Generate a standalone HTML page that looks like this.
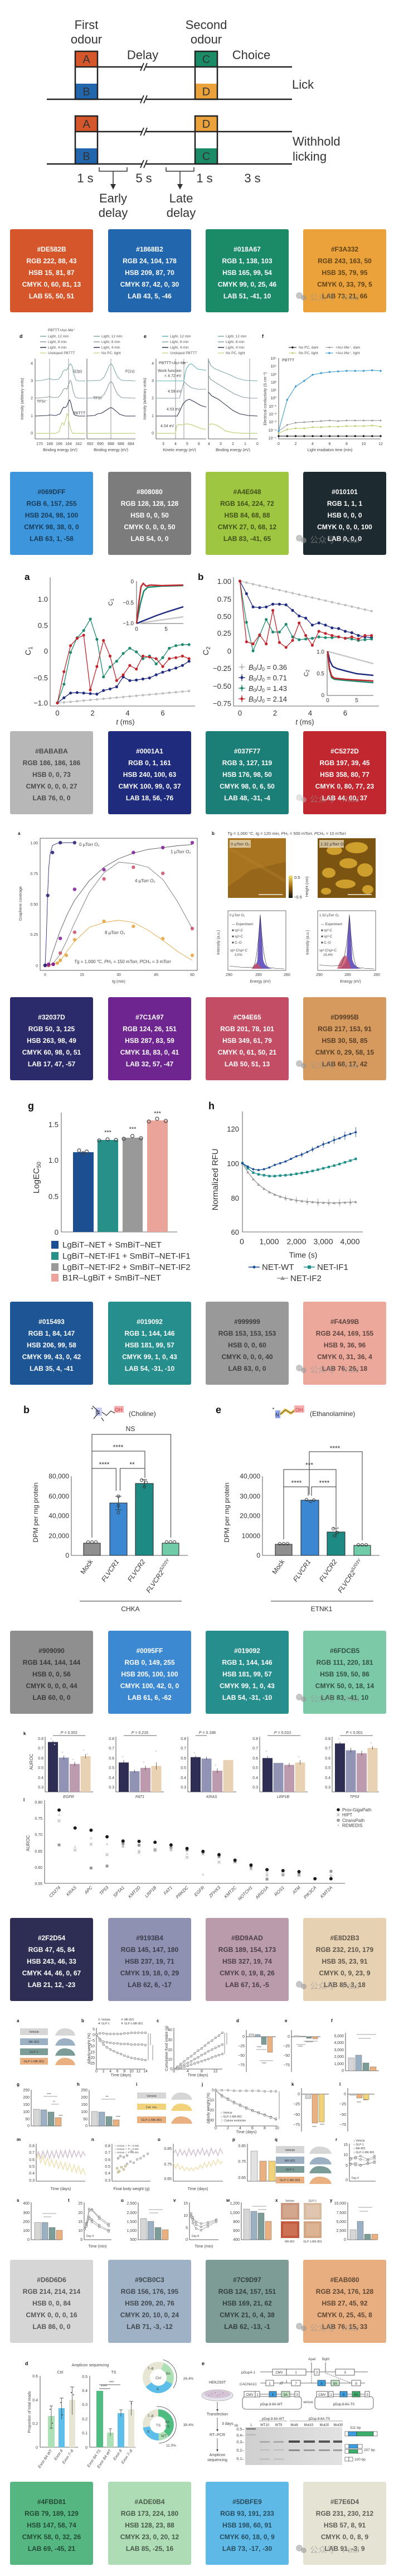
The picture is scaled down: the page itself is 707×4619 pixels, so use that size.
<!DOCTYPE html>
<html><head><meta charset="utf-8">
<style>
html,body{margin:0;padding:0;background:#fff;}
svg{display:block;}
text{font-family:"Liberation Sans","Noto Sans CJK SC",sans-serif;}
.sw text{font-weight:bold;font-size:12px;text-anchor:middle;}
.sw .w text{fill:#fff;}
.sw .d text{fill:rgba(0,0,0,0.6);}
.sw text.wm{font-weight:normal;font-size:15px;fill:rgba(150,150,150,0.6);text-anchor:start;}
.ax{fill:none;stroke:#333;stroke-width:0.8;}
.tk{font-size:7px;fill:#444;}
.tr{font-size:7px;fill:#444;text-anchor:end;}
.tm{font-size:7px;fill:#444;text-anchor:middle;}
.lb{font-weight:bold;fill:#111;}
</style></head><body>
<svg width="707" height="4619" viewBox="0 0 707 4619" xmlns="http://www.w3.org/2000/svg">
<defs>
<marker id="mN" markerUnits="userSpaceOnUse" markerWidth="8" markerHeight="8" refX="4" refY="4"><circle cx="4" cy="4" r="2.6" fill="#1f2b80"/></marker>
<marker id="mG" markerUnits="userSpaceOnUse" markerWidth="8" markerHeight="8" refX="4" refY="4"><circle cx="4" cy="4" r="2.6" fill="#1d8a70"/></marker>
<marker id="mR" markerUnits="userSpaceOnUse" markerWidth="8" markerHeight="8" refX="4" refY="4"><circle cx="4" cy="4" r="2.6" fill="#c0272d"/></marker>
<marker id="mY" markerUnits="userSpaceOnUse" markerWidth="8" markerHeight="8" refX="4" refY="4"><circle cx="4" cy="4" r="2.2" fill="#bdbdbd"/></marker>
<marker id="fB" markerUnits="userSpaceOnUse" markerWidth="6" markerHeight="6" refX="3" refY="3"><circle cx="3" cy="3" r="1.7" fill="#3a9ad0"/></marker>
<marker id="fG" markerUnits="userSpaceOnUse" markerWidth="6" markerHeight="6" refX="3" refY="3"><circle cx="3" cy="3" r="1.4" fill="#888"/></marker>
<marker id="fY" markerUnits="userSpaceOnUse" markerWidth="6" markerHeight="6" refX="3" refY="3"><circle cx="3" cy="3" r="1.5" fill="#b8c860"/></marker>
<marker id="fK" markerUnits="userSpaceOnUse" markerWidth="6" markerHeight="6" refX="3" refY="3"><circle cx="3" cy="3" r="1.7" fill="#111"/></marker>
<marker id="p4n" markerUnits="userSpaceOnUse" markerWidth="8" markerHeight="8" refX="4" refY="4"><circle cx="4" cy="4" r="3.2" fill="#2e2a7a" opacity="0.9"/></marker>
<marker id="p4p" markerUnits="userSpaceOnUse" markerWidth="8" markerHeight="8" refX="4" refY="4"><circle cx="4" cy="4" r="3.2" fill="#7c1a97" opacity="0.85"/></marker>
<marker id="p4k" markerUnits="userSpaceOnUse" markerWidth="8" markerHeight="8" refX="4" refY="4"><circle cx="4" cy="4" r="3.2" fill="#c94e65" opacity="0.85"/></marker>
<marker id="p4o" markerUnits="userSpaceOnUse" markerWidth="8" markerHeight="8" refX="4" refY="4"><circle cx="4" cy="4" r="3.2" fill="#e3a340" opacity="0.85"/></marker>
<marker id="hW" markerUnits="userSpaceOnUse" markerWidth="6" markerHeight="6" refX="3" refY="3"><circle cx="3" cy="3" r="2" fill="#1c4f9a"/></marker>
<marker id="hF" markerUnits="userSpaceOnUse" markerWidth="6" markerHeight="6" refX="3" refY="3"><rect x="0.8" y="0.8" width="4.4" height="4.4" fill="#22908a"/></marker>
<marker id="hT" markerUnits="userSpaceOnUse" markerWidth="6" markerHeight="6" refX="3" refY="3"><path d="M3,0.6 L5.6,5.2 L0.4,5.2 Z" fill="#999"/></marker>
<marker id="mo" markerUnits="userSpaceOnUse" markerWidth="6" markerHeight="6" refX="3" refY="3"><circle cx="3" cy="3" r="1.8" fill="#e6e6e6" stroke="#666" stroke-width="0.6"/></marker>
<linearGradient id="cb" x1="0" y1="0" x2="0" y2="1"><stop offset="0" stop-color="#f5e070"/><stop offset="0.5" stop-color="#a06a10"/><stop offset="1" stop-color="#111"/></linearGradient>
<linearGradient id="gel" x1="0" y1="0" x2="1" y2="0"><stop offset="0" stop-color="#cfcfcf"/><stop offset="1" stop-color="#e2e2e2"/></linearGradient>
</defs>

<!-- ================= FIGURE 1: timing diagram ================= -->
<g font-size="22" fill="#333" text-anchor="middle">
<text x="155" y="52">First</text><text x="155" y="78">odour</text>
<text x="370" y="52">Second</text><text x="370" y="78">odour</text>
<text x="256" y="106">Delay</text><text x="451" y="106">Choice</text>
<text x="153" y="327">1 s</text><text x="258" y="327">5 s</text><text x="367" y="327">1 s</text><text x="453" y="327">3 s</text>
<text x="203" y="363">Early</text><text x="203" y="389">delay</text>
<text x="325" y="363">Late</text><text x="325" y="389">delay</text>
</g>
<g font-size="22" fill="#333"><text x="524" y="159">Lick</text><text x="525" y="261">Withhold</text><text x="525" y="288">licking</text></g>
<!-- boxes group 1 -->
<rect x="135" y="92" width="40" height="28" fill="#d4562a"/><rect x="135" y="150" width="40" height="28" fill="#2267ae"/>
<rect x="350" y="92" width="40" height="28" fill="#1b8a67"/><rect x="350" y="150" width="40" height="28" fill="#eba23a"/>
<rect x="135" y="208" width="40" height="28" fill="#d4562a"/><rect x="135" y="266" width="40" height="28" fill="#2267ae"/>
<rect x="350" y="208" width="40" height="28" fill="#eba23a"/><rect x="350" y="266" width="40" height="28" fill="#1b8a67"/>
<g fill="#333" font-size="20" text-anchor="middle">
<text x="155" y="113">A</text><text x="155" y="171">B</text><text x="370" y="113">C</text><text x="370" y="171">D</text>
<text x="155" y="229">A</text><text x="155" y="287">B</text><text x="370" y="229">D</text><text x="370" y="287">C</text>
</g>
<g fill="none" stroke="#222" stroke-width="2.5">
<rect x="135" y="92" width="40" height="86"/><rect x="350" y="92" width="40" height="86"/>
<rect x="135" y="208" width="40" height="86"/><rect x="350" y="208" width="40" height="86"/>
<path d="M135,120 H524 M84,178 H524 M135,236 H524 M84,294 H524"/>
</g>
<g fill="#fff"><rect x="256" y="112" width="6" height="16"/><rect x="256" y="170" width="6" height="16"/><rect x="256" y="228" width="6" height="16"/><rect x="256" y="286" width="6" height="16"/></g>
<g stroke="#222" stroke-width="1.8" fill="none">
<path d="M252,127 L258,113 M258,127 L264,113 M252,185 L258,171 M258,185 L264,171 M252,243 L258,229 M258,243 L264,229 M252,301 L258,287 M258,301 L264,287"/>
</g>
<g stroke="#333" stroke-width="1.5" fill="none">
<path d="M178,300 V307 H228 V300 M203,307 V334 M298,300 V307 H348 V300 M323,307 V334"/>
</g>
<path d="M198,330 L203,340 L208,330 Z M318,330 L323,340 L328,330 Z" fill="#333"/>

<!-- ================= SWATCH ROW 1 ================= -->
<g class="sw" transform="translate(0,411)">
<rect x="18" y="0" width="149" height="149" rx="3" fill="#d4562a"/>
<rect x="194" y="0" width="149" height="149" rx="3" fill="#2267ae"/>
<rect x="369" y="0" width="149" height="149" rx="3" fill="#1b8a67"/>
<rect x="544" y="0" width="149" height="149" rx="3" fill="#eba23a"/>
<g class="w"><text x="92.5" y="40">#DE582B</text><text x="92.5" y="61">RGB 222, 88, 43</text><text x="92.5" y="82">HSB 15, 81, 87</text><text x="92.5" y="103">CMYK 0, 60, 81, 13</text><text x="92.5" y="124">LAB 55, 50, 51</text></g>
<g class="w"><text x="268.5" y="40">#1868B2</text><text x="268.5" y="61">RGB 24, 104, 178</text><text x="268.5" y="82">HSB 209, 87, 70</text><text x="268.5" y="103">CMYK 87, 42, 0, 30</text><text x="268.5" y="124">LAB 43, 5, -46</text></g>
<g class="w"><text x="443.5" y="40">#018A67</text><text x="443.5" y="61">RGB 1, 138, 103</text><text x="443.5" y="82">HSB 165, 99, 54</text><text x="443.5" y="103">CMYK 99, 0, 25, 46</text><text x="443.5" y="124">LAB 51, -41, 10</text></g>
<g class="d"><text x="618.5" y="40">#F3A332</text><text x="618.5" y="61">RGB 243, 163, 50</text><text x="618.5" y="82">HSB 35, 79, 95</text><text x="618.5" y="103">CMYK 0, 33, 79, 5</text><text x="618.5" y="124">LAB 73, 21, 66</text></g>
<circle cx="537" cy="119" r="6" fill="rgba(160,160,160,0.6)"/><circle cx="545" cy="123" r="5" fill="rgba(150,150,150,0.6)"/>
<text class="wm" x="556" y="127">公众号 · Paul</text>
</g>

<!-- ================= FIGURE 2 ================= -->
<text class="lb" x="35" y="606" font-size="9">d</text>
<text x="86" y="594" font-size="6.5" fill="#444">PBTTT+Acr-Me⁺</text>
<g font-size="6.5" fill="#555">
<path d="M72,603 H83" stroke="#7fa9aa" stroke-width="1.5"/><text x="86" y="605">Light, 12 min</text>
<path d="M72,613 H83" stroke="#8c9ba0" stroke-width="1.5"/><text x="86" y="615">Light, 8 min</text>
<path d="M72,623 H83" stroke="#2e3650" stroke-width="1.5"/><text x="86" y="625">Light, 4 min</text>
<path d="M72,633 H83" stroke="#c9d98f" stroke-width="1.5"/><text x="86" y="635">Undoped PBTTT</text>
<path d="M168,603 H179" stroke="#7fa9aa" stroke-width="1.5"/><text x="182" y="605">Light, 12 min</text>
<path d="M168,613 H179" stroke="#8c9ba0" stroke-width="1.5"/><text x="182" y="615">Light, 8 min</text>
<path d="M168,623 H179" stroke="#2e3650" stroke-width="1.5"/><text x="182" y="625">Light, 4 min</text>
<path d="M168,633 H179" stroke="#c9d98f" stroke-width="1.5"/><text x="182" y="635">No PC, light</text>
</g>
<path class="ax" d="M63,643 V787 H153 M156,643 V787 H243"/>
<path d="M89,643 V787 M123,643 V787 M199,643 V787" stroke="#555" stroke-width="0.6"/>
<g class="tr"><text x="59" y="654">4</text><text x="59" y="685">3</text><text x="59" y="716">2</text><text x="59" y="748">1</text><text x="59" y="779">0</text></g>
<g class="tm"><text x="71" y="798">170</text><text x="89" y="798">168</text><text x="106" y="798">166</text><text x="123" y="798">164</text><text x="141" y="798">162</text>
<text x="162" y="798">692</text><text x="180" y="798">690</text><text x="199" y="798">688</text><text x="217" y="798">686</text><text x="235" y="798">684</text>
<text x="108" y="809">Binding energy (eV)</text><text x="199" y="809">Binding energy (eV)</text></g>
<text class="tm" transform="translate(42,715) rotate(-90)">Intensity (arbitrary units)</text>
<text class="tk" x="130" y="668">S(2p)</text><text class="tk" x="225" y="668">F(1s)</text>
<text class="tk" x="66" y="722">TFSI⁻</text><text class="tk" x="167" y="716">TFSI⁻</text><text class="tk" x="131" y="743">PBTTT</text>
<g fill="none" stroke-width="1.1">
<polyline stroke="#7fa9aa" points="63,683 75,682 85,680 89,679 95,681 105,680 110,674 113,666 116,663 119,664 122,660 124,655 127,652 130,658 133,672 136,681 140,683 153,683"/>
<polyline stroke="#8c9ba0" points="63,714 85,712 89,711 95,713 105,712 110,706 114,698 117,696 120,698 123,690 126,682 128,685 131,700 135,712 140,714 153,714"/>
<polyline stroke="#2e3650" points="63,746 85,745 89,744 100,745 108,742 111,735 114,730 117,731 120,728 123,720 125,717 127,722 130,735 134,744 140,746 153,746"/>
<polyline stroke="#c9d98f" stroke-width="1.4" points="63,777 100,777 106,774 109,764 112,758 115,762 118,752 120,742 122,744 124,758 127,770 130,777 153,777"/>
<polyline stroke="#7fa9aa" points="156,683 180,682 187,676 192,665 196,655 199,652 202,655 206,665 211,676 218,682 243,683"/>
<polyline stroke="#8c9ba0" points="156,714 180,713 187,707 192,697 196,687 199,684 202,687 206,697 211,707 218,713 243,714"/>
<polyline stroke="#2e3650" points="156,746 170,745 175,742 182,741 190,736 196,732 199,731 202,732 208,737 215,743 225,746 243,746"/>
<polyline stroke="#c9d98f" stroke-width="1.4" points="156,777 243,777"/>
</g>
<!-- e -->
<text class="lb" x="258" y="606" font-size="9">e</text>
<g font-size="6.5" fill="#555">
<path d="M291,603 H302" stroke="#5fb0b0" stroke-width="1.5"/><text x="305" y="605">Light, 12 min</text>
<path d="M291,613 H302" stroke="#8aa0a5" stroke-width="1.5"/><text x="305" y="615">Light, 8 min</text>
<path d="M291,623 H302" stroke="#2e3650" stroke-width="1.5"/><text x="305" y="625">Light, 4 min</text>
<path d="M291,633 H302" stroke="#c9d98f" stroke-width="1.5"/><text x="305" y="635">Undoped PBTTT</text>
<path d="M391,603 H402" stroke="#7fa9aa" stroke-width="1.5"/><text x="405" y="605">Light, 12 min</text>
<path d="M391,613 H402" stroke="#8aa0a5" stroke-width="1.5"/><text x="405" y="615">Light, 8 min</text>
<path d="M391,623 H402" stroke="#2e3650" stroke-width="1.5"/><text x="405" y="625">Light, 4 min</text>
<path d="M391,633 H402" stroke="#c9d98f" stroke-width="1.5"/><text x="405" y="635">No PC, light</text>
</g>
<path class="ax" d="M280,643 V787 H370 M374,643 V787 H462"/>
<path d="M315,643 V787 M330,643 V787 M448,643 V787" stroke="#555" stroke-width="0.6"/>
<g class="tr"><text x="276" y="654">4</text><text x="276" y="685">3</text><text x="276" y="716">2</text><text x="276" y="748">1</text><text x="276" y="779">0</text></g>
<g class="tm"><text x="293" y="798">3</text><text x="315" y="798">4</text><text x="336" y="798">5</text><text x="357" y="798">6</text>
<text x="375" y="798">4</text><text x="396" y="798">3</text><text x="418" y="798">2</text><text x="440" y="798">1</text><text x="462" y="798">0</text>
<text x="322" y="809">Kinetic energy (eV)</text><text x="418" y="809">Binding energy (eV)</text></g>
<text class="tm" transform="translate(262,715) rotate(-90)">Intensity (arbitrary units)</text>
<g class="tk" font-size="6.5"><text x="285" y="653">PBTTT+Acr-Me⁺</text><text x="283" y="667">Work function</text><text x="295" y="676">= 4.72 eV</text>
<text x="301" y="704">4.59 eV</text><text x="299" y="736">4.53 eV</text><text x="288" y="766">4.04 eV</text></g>
<g fill="none" stroke-width="1.1">
<polyline stroke="#5fb0b0" points="280,683 330,683 332,670 335,660 339,654 343,652 348,656 355,662 370,664"/>
<polyline stroke="#8aa0a5" points="280,714 322,714 326,700 330,684 336,690 343,695 355,698 370,698"/>
<polyline stroke="#2e3650" points="280,746 318,746 322,738 328,725 334,718 340,716 348,720 360,727 370,730"/>
<polyline stroke="#c9d98f" stroke-width="1.5" points="280,777 315,777 317,763 321,761 325,762 335,760 342,761 350,764 360,768 370,770"/>
<polyline stroke="#7fa9aa" points="374,645 378,655 385,661 395,665 410,671 425,678 440,682 462,683"/>
<polyline stroke="#8aa0a5" points="374,673 378,680 390,688 405,697 420,706 435,712 450,714 462,714"/>
<polyline stroke="#2e3650" points="374,703 380,710 392,716 405,726 418,736 430,742 445,745 462,746"/>
<polyline stroke="#c9d98f" stroke-width="1.5" points="374,762 380,760 388,762 395,766 405,773 420,776 440,777 462,777"/>
</g>
<!-- f -->
<text class="lb" x="470" y="606" font-size="9">f</text>
<g font-size="6.5" fill="#555">
<path d="M518,623 H532" stroke="#111" stroke-width="1"/><circle cx="525" cy="623" r="1.7" fill="#111"/><text x="536" y="625">No PC, dark</text>
<path d="M584,623 H598" stroke="#888" stroke-width="1"/><circle cx="591" cy="623" r="1.4" fill="#888"/><text x="602" y="625">+Acr-Me⁺, dark</text>
<path d="M518,633 H532" stroke="#b8c860" stroke-width="1"/><circle cx="525" cy="633" r="1.5" fill="#b8c860"/><text x="536" y="635">No PC, light</text>
<path d="M584,633 H598" stroke="#3a9ad0" stroke-width="1"/><circle cx="591" cy="633" r="1.7" fill="#3a9ad0"/><text x="602" y="635">+Acr-Me⁺, light</text>
</g>
<path class="ax" d="M500,642 V787 H683"/>
<g class="tr" font-size="6"><text x="496" y="645">10⁵</text><text x="496" y="659">10⁴</text><text x="496" y="674">10³</text><text x="496" y="688">10²</text><text x="496" y="702">10¹</text><text x="496" y="716">10⁰</text><text x="496" y="731">10⁻¹</text><text x="496" y="745">10⁻²</text><text x="496" y="759">10⁻³</text><text x="496" y="774">10⁻⁴</text><text x="496" y="788">10⁻⁵</text></g>
<g class="tm"><text x="500" y="798">0</text><text x="530.5" y="798">2</text><text x="561" y="798">4</text><text x="591.5" y="798">6</text><text x="622" y="798">8</text><text x="652.5" y="798">10</text><text x="683" y="798">12</text>
<text x="592" y="809">Light irradiation time (min)</text></g>
<text class="tm" transform="translate(478,715) rotate(-90)">Electrical conductivity (S cm⁻¹)</text>
<text class="tk" x="506" y="648">PBTTT</text>
<g fill="none" stroke-width="0.9">
<polyline stroke="#111" style="marker-start:url(#fK);marker-mid:url(#fK);marker-end:url(#fK)" points="500,782 515.3,782 530.5,782 545.8,782 561,782 576.3,782 591.5,782 606.8,782 622,782 637.3,782 652.5,782 667.8,782 683,782"/>
<polyline stroke="#b8c860" style="marker-start:url(#fY);marker-mid:url(#fY);marker-end:url(#fY)" points="500,777 515.3,770 530.5,768 545.8,768 561,766 576.3,766 591.5,765 606.8,765 622,764 637.3,764 652.5,764 667.8,763 683,765"/>
<polyline stroke="#888" style="marker-start:url(#fG);marker-mid:url(#fG);marker-end:url(#fG)" points="500,773 515.3,762 530.5,758 545.8,757 561,756 576.3,755 591.5,754 606.8,755 622,754 637.3,754 652.5,754 667.8,754 683,754"/>
<polyline stroke="#3a9ad0" stroke-width="1.1" style="marker-start:url(#fB);marker-mid:url(#fB);marker-end:url(#fB)" points="500,773 515.3,717 530.5,693 545.8,683 561,672 576.3,669 591.5,667 606.8,666 622,665 637.3,665 652.5,665 667.8,664 683,665"/>
</g>

<!-- ================= SWATCH ROW 2 ================= -->
<g class="sw" transform="translate(0,846)">
<rect x="18" y="0" width="149" height="149" rx="3" fill="#3d95db"/>
<rect x="194" y="0" width="149" height="149" rx="3" fill="#7c7c7c"/>
<rect x="369" y="0" width="149" height="149" rx="3" fill="#9fc640"/>
<rect x="544" y="0" width="149" height="149" rx="3" fill="#1d2a30"/>
<g class="d"><text x="92.5" y="40">#069DFF</text><text x="92.5" y="61">RGB 6, 157, 255</text><text x="92.5" y="82">HSB 204, 98, 100</text><text x="92.5" y="103">CMYK 98, 38, 0, 0</text><text x="92.5" y="124">LAB 63, 1, -58</text></g>
<g class="w"><text x="268.5" y="40">#808080</text><text x="268.5" y="61">RGB 128, 128, 128</text><text x="268.5" y="82">HSB 0, 0, 50</text><text x="268.5" y="103">CMYK 0, 0, 0, 50</text><text x="268.5" y="124">LAB 54, 0, 0</text></g>
<g class="d"><text x="443.5" y="40">#A4E048</text><text x="443.5" y="61">RGB 164, 224, 72</text><text x="443.5" y="82">HSB 84, 68, 88</text><text x="443.5" y="103">CMYK 27, 0, 68, 12</text><text x="443.5" y="124">LAB 83, -41, 65</text></g>
<g class="w"><text x="618.5" y="40">#010101</text><text x="618.5" y="61">RGB 1, 1, 1</text><text x="618.5" y="82">HSB 0, 0, 0</text><text x="618.5" y="103">CMYK 0, 0, 0, 100</text><text x="618.5" y="124">LAB 0, 0, 0</text></g>
<circle cx="537" cy="119" r="6" fill="rgba(160,160,160,0.6)"/><circle cx="545" cy="123" r="5" fill="rgba(150,150,150,0.6)"/>
<text class="wm" x="556" y="127">公众号 · Paul</text>
</g>

<!-- ================= FIGURE 3 ================= -->
<text class="lb" x="44" y="1040" font-size="17">a</text>
<text class="lb" x="355" y="1040" font-size="17">b</text>
<path class="ax" stroke-width="1.2" d="M90,1035 V1266 H350 M419,1035 V1266 H680"/>
<g font-size="13" fill="#333" text-anchor="end">
<text x="86" y="1079">1.0</text><text x="86" y="1126">0.5</text><text x="86" y="1172">0</text><text x="86" y="1220">−0.5</text><text x="86" y="1265">−1.0</text>
<text x="415" y="1047">1.00</text><text x="415" y="1079">0.75</text><text x="415" y="1110">0.50</text><text x="415" y="1140">0.25</text><text x="415" y="1172">0</text><text x="415" y="1203">−0.25</text><text x="415" y="1235">−0.50</text><text x="415" y="1266">−0.75</text>
</g>
<g font-size="13" fill="#333" text-anchor="middle">
<text x="103" y="1283">0</text><text x="166" y="1283">2</text><text x="229" y="1283">4</text><text x="292" y="1283">6</text>
<text x="430.5" y="1283">0</text><text x="493.5" y="1283">2</text><text x="556.5" y="1283">4</text><text x="619.5" y="1283">6</text>
<text x="225" y="1299"><tspan font-style="italic">t</tspan> (ms)</text><text x="547" y="1299"><tspan font-style="italic">t</tspan> (ms)</text>
</g>
<text font-size="14" fill="#333" transform="translate(55,1175) rotate(-90)">C<tspan font-size="10" dy="3">1</tspan></text>
<text font-size="14" fill="#333" transform="translate(374,1175) rotate(-90)">C<tspan font-size="10" dy="3">2</tspan></text>
<g fill="none" stroke-width="1.3">
<polyline stroke="#bdbdbd" style="marker-start:url(#mY);marker-mid:url(#mY);marker-end:url(#mY)" points="103,1260.5 114.8,1259.4 126.6,1258.4 138.4,1257.3 150.2,1256.2 162.1,1255.1 173.9,1254.1 185.7,1253 197.5,1251.9 209.3,1250.8 221.1,1249.8 232.9,1248.7 244.7,1247.6 256.5,1246.5 268.3,1245.5 280.2,1244.4 292,1243.3 303.8,1242.2 315.6,1241.2 327.4,1240.1 339.2,1239"/>
<polyline stroke="#1f2b80" style="marker-start:url(#mN);marker-mid:url(#mN);marker-end:url(#mN)" points="103,1260.5 114.8,1251.2 126.6,1242.7 138.4,1241.8 150.2,1242.7 162.1,1243.7 173.9,1244.6 185.7,1238.1 197.5,1235.3 209.3,1231.5 221.1,1213.8 232.9,1220.3 244.7,1219.4 256.5,1217.5 268.3,1215.6 280.2,1210 292,1205.3 303.8,1201.6 315.6,1197.9 327.4,1193.2 339.2,1185.7"/>
<polyline stroke="#1d8a70" style="marker-start:url(#mG);marker-mid:url(#mG);marker-end:url(#mG)" points="103,1260.5 114.8,1226.8 126.6,1169.8 138.4,1143.6 150.2,1130.5 162.1,1110 173.9,1146.4 185.7,1213.8 197.5,1196 209.3,1185.7 221.1,1171.7 232.9,1162.3 244.7,1168.9 256.5,1181 268.3,1176.4 280.2,1190.4 292,1179.2 303.8,1162.3 315.6,1157.7 327.4,1155.8 339.2,1155.8"/>
<polyline stroke="#c0272d" style="marker-start:url(#mR);marker-mid:url(#mR);marker-end:url(#mR)" points="103,1260.5 114.8,1204.4 126.6,1157.7 138.4,1144.6 150.2,1139 162.1,1237.1 173.9,1195.1 185.7,1148.3 197.5,1176.4 209.3,1220.3 221.1,1210 232.9,1193.2 244.7,1199.7 256.5,1176.4 268.3,1178.2 280.2,1181 292,1195.1 303.8,1181 315.6,1179.2 327.4,1176.4 339.2,1181"/>
<polyline stroke="#bdbdbd" style="marker-start:url(#mY);marker-mid:url(#mY);marker-end:url(#mY)" points="430.5,1042 442.3,1044.7 454.1,1047.4 465.9,1050.1 477.7,1052.8 489.6,1055.5 501.4,1058.1 513.2,1060.8 525,1063.5 536.8,1066.2 548.6,1068.9 560.4,1071.6 572.2,1074.3 584,1077 595.8,1079.7 607.7,1082.4 619.5,1085 631.3,1087.7 643.1,1090.4 654.9,1093.1 666.7,1095.8"/>
<polyline stroke="#1f2b80" style="marker-start:url(#mN);marker-mid:url(#mN);marker-end:url(#mN)" points="430.5,1042 442.3,1064.5 454.1,1088.3 465.9,1089.5 477.7,1088.3 489.6,1083.3 501.4,1083.3 513.2,1084.5 525,1094.5 536.8,1104.5 548.6,1108.3 560.4,1120.8 572.2,1117 584,1120.8 595.8,1125.8 607.7,1127 619.5,1132 631.3,1134.5 643.1,1139.5 654.9,1142 666.7,1143.3"/>
<polyline stroke="#1d8a70" style="marker-start:url(#mG);marker-mid:url(#mG);marker-end:url(#mG)" points="430.5,1042 442.3,1115.8 454.1,1167 465.9,1139.5 477.7,1110.8 489.6,1133.3 501.4,1133.3 513.2,1119.5 525,1142 536.8,1147 548.6,1145.8 560.4,1144.5 572.2,1142 584,1143.3 595.8,1143.3 607.7,1142 619.5,1144.5 631.3,1145.8 643.1,1148.3 654.9,1147 666.7,1145.8"/>
<polyline stroke="#c0272d" style="marker-start:url(#mR);marker-mid:url(#mR);marker-end:url(#mR)" points="430.5,1042 442.3,1150.8 454.1,1154.5 465.9,1138.3 477.7,1154.5 489.6,1094.5 501.4,1152 513.2,1160.8 525,1148.3 536.8,1117 548.6,1139.5 560.4,1157 572.2,1132 584,1135.8 595.8,1139.5 607.7,1142 619.5,1144.5 631.3,1142 643.1,1145.8 654.9,1139.5 666.7,1139.5"/>
</g>
<!-- inset a -->
<path class="ax" d="M245,1042 V1118 H329"/>
<g font-size="10" fill="#333"><text x="240" y="1046" text-anchor="end">0</text><text x="240" y="1084" text-anchor="end">−0.5</text><text x="240" y="1121" text-anchor="end">−1.0</text>
<text x="245" y="1131" text-anchor="middle">0</text><text x="298" y="1131" text-anchor="middle">5</text></g>
<text font-size="11" fill="#333" transform="translate(202,1086) rotate(-90)">C<tspan font-size="8" dy="2">1</tspan></text>
<g fill="none" stroke-width="2.5">
<polyline stroke="#c8c8c8" points="245,1118 329,1106"/>
<polyline stroke="#1f2b80" points="245,1118 260,1112 280,1104 300,1097 329,1088"/>
<polyline stroke="#1d8a70" points="245,1118 252,1082 258,1060 265,1053 290,1051 329,1050"/>
<polyline stroke="#c0272d" points="245,1118 249,1082 253,1052 257,1046 262,1051 270,1049 290,1050 329,1049"/>
</g>
<!-- inset b -->
<path class="ax" d="M587,1167 V1247 H670"/>
<g font-size="10" fill="#333"><text x="582" y="1172" text-anchor="end">1.0</text><text x="582" y="1211" text-anchor="end">0.5</text><text x="582" y="1250" text-anchor="end">0</text>
<text x="588" y="1259" text-anchor="middle">0</text><text x="640" y="1259" text-anchor="middle">5</text></g>
<text font-size="11" fill="#333" transform="translate(553,1213) rotate(-90)">C<tspan font-size="8" dy="2">2</tspan></text>
<g fill="none" stroke-width="2.5">
<polyline stroke="#c8c8c8" points="588,1168 670,1190"/>
<polyline stroke="#1f2b80" points="588,1168 592,1185 597,1195 605,1199 620,1203 640,1208 670,1211"/>
<polyline stroke="#1d8a70" points="588,1168 591,1200 595,1215 600,1218 620,1220 670,1224"/>
<polyline stroke="#c0272d" points="588,1168 591,1198 595,1212 600,1216 620,1218 670,1221"/>
</g>
<!-- legend b -->
<g font-size="13" fill="#333">
<path d="M428,1196 H440 M434,1190 V1202" stroke="#bdbdbd" stroke-width="1.3"/><circle cx="434" cy="1196" r="2.5" fill="#bdbdbd"/><text x="446" y="1201"><tspan font-style="italic">B</tspan><tspan font-size="9" dy="2">0</tspan><tspan dy="-2">/</tspan><tspan font-style="italic">J</tspan><tspan font-size="9" dy="2">0</tspan><tspan dy="-2"> = 0.36</tspan></text>
<path d="M428,1215 H440 M434,1209 V1221" stroke="#1f2b80" stroke-width="1.3"/><circle cx="434" cy="1215" r="2.5" fill="#1f2b80"/><text x="446" y="1220"><tspan font-style="italic">B</tspan><tspan font-size="9" dy="2">0</tspan><tspan dy="-2">/</tspan><tspan font-style="italic">J</tspan><tspan font-size="9" dy="2">0</tspan><tspan dy="-2"> = 0.71</tspan></text>
<path d="M428,1234 H440 M434,1228 V1240" stroke="#1d8a70" stroke-width="1.3"/><circle cx="434" cy="1234" r="2.5" fill="#1d8a70"/><text x="446" y="1239"><tspan font-style="italic">B</tspan><tspan font-size="9" dy="2">0</tspan><tspan dy="-2">/</tspan><tspan font-style="italic">J</tspan><tspan font-size="9" dy="2">0</tspan><tspan dy="-2"> = 1.43</tspan></text>
<path d="M428,1253 H440 M434,1247 V1259" stroke="#c0272d" stroke-width="1.3"/><circle cx="434" cy="1253" r="2.5" fill="#c0272d"/><text x="446" y="1258"><tspan font-style="italic">B</tspan><tspan font-size="9" dy="2">0</tspan><tspan dy="-2">/</tspan><tspan font-style="italic">J</tspan><tspan font-size="9" dy="2">0</tspan><tspan dy="-2"> = 2.14</tspan></text>
</g>

<!-- ================= SWATCH ROW 3 ================= -->
<g class="sw" transform="translate(0,1311)">
<rect x="18" y="0" width="149" height="149" rx="3" fill="#b7b7b7"/>
<rect x="194" y="0" width="149" height="149" rx="3" fill="#1f2c7d"/>
<rect x="369" y="0" width="149" height="149" rx="3" fill="#1c7f77"/>
<rect x="544" y="0" width="149" height="149" rx="3" fill="#c1272e"/>
<g class="d"><text x="92.5" y="40">#BABABA</text><text x="92.5" y="61">RGB 186, 186, 186</text><text x="92.5" y="82">HSB 0, 0, 73</text><text x="92.5" y="103">CMYK 0, 0, 0, 27</text><text x="92.5" y="124">LAB 76, 0, 0</text></g>
<g class="w"><text x="268.5" y="40">#0001A1</text><text x="268.5" y="61">RGB 0, 1, 161</text><text x="268.5" y="82">HSB 240, 100, 63</text><text x="268.5" y="103">CMYK 100, 99, 0, 37</text><text x="268.5" y="124">LAB 18, 56, -76</text></g>
<g class="w"><text x="443.5" y="40">#037F77</text><text x="443.5" y="61">RGB 3, 127, 119</text><text x="443.5" y="82">HSB 176, 98, 50</text><text x="443.5" y="103">CMYK 98, 0, 6, 50</text><text x="443.5" y="124">LAB 48, -31, -4</text></g>
<g class="w"><text x="618.5" y="40">#C5272D</text><text x="618.5" y="61">RGB 197, 39, 45</text><text x="618.5" y="82">HSB 358, 80, 77</text><text x="618.5" y="103">CMYK 0, 80, 77, 23</text><text x="618.5" y="124">LAB 44, 60, 37</text></g>
<circle cx="537" cy="119" r="6" fill="rgba(200,200,200,0.5)"/><circle cx="545" cy="123" r="5" fill="rgba(190,190,190,0.5)"/>
<text class="wm" x="556" y="127">公众号 · Paul</text>
</g>

<!-- ================= FIGURE 4 ================= -->
<text class="lb" x="32" y="1497" font-size="8">a</text>
<rect x="72" y="1503" width="282" height="237" fill="none" stroke="#333" stroke-width="0.8"/>
<g class="tr" font-size="8"><text x="68" y="1514">1.00</text><text x="68" y="1569">0.75</text><text x="68" y="1624">0.50</text><text x="68" y="1678">0.25</text><text x="68" y="1734">0</text></g>
<g class="tm" font-size="8"><text x="81" y="1750">0</text><text x="147" y="1750">15</text><text x="213" y="1750">30</text><text x="280" y="1750">45</text><text x="345" y="1750">60</text>
<text x="213" y="1762"><tspan font-style="italic">t</tspan>g (min)</text></g>
<text class="tm" font-size="8" transform="translate(39,1620) rotate(-90)">Graphene coverage</text>
<g fill="none" stroke-width="0.9">
<polyline stroke="#2e2a7a" points="81,1731 83.2,1680 85.4,1606 87.6,1555 89.8,1532 94.2,1516 103,1512 116.2,1511 133.8,1511"/>
<polyline stroke="#555" points="81,1731 87.6,1731 94.2,1709 107.4,1670.5 120.6,1639.7 133.8,1614.4 160.2,1579.2 186.6,1555 213,1539.6 239.4,1529.7 265.8,1523.1 292.2,1519.8 318.6,1516.5 345,1514.3"/>
<polyline stroke="#777" points="81,1731 94.2,1729 107.4,1712 120.6,1685 133.8,1655 160.2,1600 186.6,1565 213,1546 239.4,1548.4 265.8,1555 292.2,1577 318.6,1616.6 345,1665"/>
<polyline stroke="#e3a340" points="81,1731 94.2,1730 107.4,1724 120.6,1705 133.8,1688 160.2,1663 186.6,1654 213,1650 239.4,1654 265.8,1668 292.2,1686 318.6,1706 345,1722"/>
</g>
<g fill="none" stroke="none">
<polyline style="marker-start:url(#p4o);marker-mid:url(#p4o);marker-end:url(#p4o)" points="81,1731 87.2,1731 95.5,1729 103,1727 108.2,1722 119,1713 133.9,1685 186.6,1652 239.4,1661 292.2,1683 345,1713"/>
<polyline style="marker-start:url(#p4k);marker-mid:url(#p4k);marker-end:url(#p4k)" points="81,1731 87.2,1731 95.5,1729 108.2,1709 133.9,1671.6 186.6,1576 239.4,1555 292.2,1566 345,1665"/>
<polyline style="marker-start:url(#p4p);marker-mid:url(#p4p);marker-end:url(#p4p)" points="81,1731 87.2,1729 95.5,1729 108.2,1682.6 133.9,1594.6 186.6,1559.4 239.4,1528.6 292.2,1519.8 345,1511"/>
<polyline style="marker-start:url(#p4n);marker-mid:url(#p4n);marker-end:url(#p4n)" points="81,1731 85.7,1605.6 94.2,1528.6 108.2,1511 133.9,1511"/>
</g>
<g font-size="8" fill="#444"><text x="142" y="1517">0 µTorr O₂</text><text x="306" y="1530">1 µTorr O₂</text><text x="242" y="1582">4 µTorr O₂</text><text x="188" y="1675">8 µTorr O₂</text>
<text x="133" y="1727"><tspan font-style="italic">T</tspan>g = 1,000 °C, <tspan font-style="italic">P</tspan>H₂ = 150 mTorr, <tspan font-style="italic">P</tspan>CH₄ = 3 mTorr</text></g>
<!-- b -->
<text class="lb" x="380" y="1497" font-size="8">b</text>
<text x="408" y="1497" font-size="7.5" fill="#444"><tspan font-style="italic">T</tspan>g = 1,000 °C, <tspan font-style="italic">t</tspan>g = 120 min, <tspan font-style="italic">P</tspan>H₂ = 500 mTorr, <tspan font-style="italic">P</tspan>CH₄ = 10 mTorr</text>
<rect x="409" y="1503" width="104" height="107" fill="#a87420"/>
<path d="M409,1590 L450,1560 L513,1545 L513,1610 L409,1610 Z" fill="#8a5e18" opacity="0.6"/>
<path d="M409,1520 L513,1580" stroke="#c08a30" stroke-width="6" opacity="0.25"/>
<rect x="570" y="1503" width="104" height="107" fill="#7a5410"/>
<g fill="#d8a830" opacity="0.9">
<ellipse cx="600" cy="1525" rx="14" ry="8"/><ellipse cx="640" cy="1520" rx="20" ry="10"/><ellipse cx="625" cy="1548" rx="16" ry="9"/><ellipse cx="655" cy="1560" rx="14" ry="12"/><ellipse cx="590" cy="1565" rx="12" ry="9"/><ellipse cx="620" cy="1585" rx="18" ry="8"/><ellipse cx="660" cy="1595" rx="10" ry="8"/><ellipse cx="585" cy="1598" rx="9" ry="6"/>
</g>
<rect x="412" y="1506" width="38" height="14" fill="#e8d8b8" opacity="0.8"/><text x="414" y="1516" font-size="7.5" fill="#333">0 µTorr O₂</text>
<rect x="573" y="1506" width="44" height="14" fill="#e8d8b8" opacity="0.8"/><text x="575" y="1516" font-size="7.5" fill="#333">1.32 µTorr O₂</text>
<path d="M464,1604 H507 M624,1604 H667" stroke="#f5f0e0" stroke-width="1.5"/>
<rect x="518" y="1570" width="7" height="40" fill="url(#cb)"/>
<text x="528" y="1576" font-size="7.5" fill="#333">0.5</text><text x="527" y="1611" font-size="7.5" fill="#333">−0.5</text>
<text class="tm" font-size="7.5" transform="translate(553,1590) rotate(-90)">Height (nm)</text>
<rect x="409" y="1633" width="104" height="107" fill="none" stroke="#333" stroke-width="0.7"/>
<rect x="570" y="1633" width="104" height="107" fill="none" stroke="#333" stroke-width="0.7"/>
<path d="M450,1737 Q460,1735 462,1720 Q465,1650 467,1641 Q469,1650 472,1720 Q475,1736 490,1737 Z" fill="#5b4bb8" opacity="0.9"/>
<path d="M452,1737 Q458,1725 462,1728 Q466,1732 470,1737 Z" fill="#c94e65" opacity="0.8"/>
<path d="M412,1732 Q440,1736 455,1734 Q462,1720 467,1640 Q472,1720 480,1734 Q495,1737 510,1737" fill="none" stroke="#222" stroke-width="0.6"/>
<path d="M608,1737 Q620,1730 622,1718 Q625,1650 627,1641 Q629,1650 632,1720 Q636,1736 650,1737 Z" fill="#5b4bb8" opacity="0.9"/>
<path d="M605,1737 Q613,1715 620,1713 Q626,1720 630,1737 Z" fill="#c94e65" opacity="0.8"/>
<path d="M573,1730 Q600,1734 612,1730 Q622,1715 627,1640 Q632,1720 640,1734 Q655,1737 671,1737" fill="none" stroke="#222" stroke-width="0.6"/>
<g font-size="6" fill="#444">
<text x="412" y="1643">0 µTorr O₂</text><text x="416" y="1659">— Experiment</text><text x="416" y="1670">■ sp²-C</text><text x="416" y="1681">■ sp³-C</text><text x="416" y="1692">■ C–O</text><text x="413" y="1706">sp³-C/sp²-C</text><text x="421" y="1714">3.0%</text>
<text x="573" y="1643">1.32 µTorr O₂</text><text x="576" y="1659">— Experiment</text><text x="576" y="1670">■ sp²-C</text><text x="576" y="1681">■ sp³-C</text><text x="576" y="1692">■ C–O</text><text x="573" y="1706">sp³-C/sp²-C</text><text x="580" y="1714">15.4%</text>
</g>
<text class="tm" font-size="7.5" transform="translate(394,1690) rotate(-90)">Intensity (a.u.)</text>
<text class="tm" font-size="7.5" transform="translate(554,1690) rotate(-90)">Intensity (a.u.)</text>
<g class="tm" font-size="8"><text x="411" y="1750">290</text><text x="464" y="1750">285</text><text x="515" y="1750">280</text><text x="573" y="1750">290</text><text x="624" y="1750">285</text><text x="676" y="1750">280</text>
<text x="467" y="1762">Energy (eV)</text><text x="629" y="1762">Energy (eV)</text></g>

<!-- ================= SWATCH ROW 4 ================= -->
<g class="sw" transform="translate(0,1788)">
<rect x="18" y="0" width="149" height="149" rx="3" fill="#2b2b6c"/>
<rect x="194" y="0" width="149" height="149" rx="3" fill="#6e2590"/>
<rect x="369" y="0" width="149" height="149" rx="3" fill="#c24d64"/>
<rect x="544" y="0" width="149" height="149" rx="3" fill="#d79a5e"/>
<g class="w"><text x="92.5" y="40">#32037D</text><text x="92.5" y="61">RGB 50, 3, 125</text><text x="92.5" y="82">HSB 263, 98, 49</text><text x="92.5" y="103">CMYK 60, 98, 0, 51</text><text x="92.5" y="124">LAB 17, 47, -57</text></g>
<g class="w"><text x="268.5" y="40">#7C1A97</text><text x="268.5" y="61">RGB 124, 26, 151</text><text x="268.5" y="82">HSB 287, 83, 59</text><text x="268.5" y="103">CMYK 18, 83, 0, 41</text><text x="268.5" y="124">LAB 32, 57, -47</text></g>
<g class="w"><text x="443.5" y="40">#C94E65</text><text x="443.5" y="61">RGB 201, 78, 101</text><text x="443.5" y="82">HSB 349, 61, 79</text><text x="443.5" y="103">CMYK 0, 61, 50, 21</text><text x="443.5" y="124">LAB 50, 51, 13</text></g>
<g class="d"><text x="618.5" y="40">#D9995B</text><text x="618.5" y="61">RGB 217, 153, 91</text><text x="618.5" y="82">HSB 30, 58, 85</text><text x="618.5" y="103">CMYK 0, 29, 58, 15</text><text x="618.5" y="124">LAB 68, 17, 42</text></g>
<circle cx="537" cy="119" r="6" fill="rgba(160,160,160,0.6)"/><circle cx="545" cy="123" r="5" fill="rgba(150,150,150,0.6)"/>
<text class="wm" x="556" y="127">公众号 · Paul</text>
</g>

<!-- ================= FIGURE 5 ================= -->
<text class="lb" x="50" y="1989" font-size="18">g</text>
<text class="lb" x="374" y="1989" font-size="18">h</text>
<path class="ax" stroke-width="1.1" d="M110,1995 V2209 H318"/>
<g font-size="13" fill="#333" text-anchor="end"><text x="105" y="2021">1.5</text><text x="105" y="2085">1.0</text><text x="105" y="2150">0.5</text><text x="105" y="2214">0</text></g>
<text font-size="15" fill="#333" transform="translate(70,2140) rotate(-90)">LogEC<tspan font-size="10" dy="3">50</tspan></text>
<rect x="131" y="2066" width="37" height="143" fill="#1b4f92"/>
<rect x="175" y="2044" width="37" height="165" fill="#279088"/>
<rect x="220" y="2040" width="36" height="169" fill="#999999"/>
<rect x="264" y="2009" width="37" height="200" fill="#eba49a"/>
<g fill="none" stroke="#444" stroke-width="1.2">
<circle cx="142" cy="2063" r="3"/><circle cx="149" cy="2068" r="3"/><circle cx="155.5" cy="2065" r="3"/>
<circle cx="178" cy="2045" r="3"/><circle cx="193" cy="2043" r="3"/><circle cx="208" cy="2044" r="3"/>
<circle cx="222" cy="2042" r="3"/><circle cx="237.6" cy="2037" r="3"/><circle cx="253" cy="2041" r="3"/>
<circle cx="267" cy="2011" r="3"/><circle cx="282" cy="2006" r="3"/><circle cx="297.5" cy="2010" r="3"/>
</g>
<g font-size="11" fill="#333" text-anchor="middle"><text x="193.5" y="2034">***</text><text x="238" y="2028">***</text><text x="282.5" y="2000">***</text></g>
<g font-size="15" fill="#333">
<rect x="92" y="2225" width="13" height="14" fill="#1b4f92"/><text x="112" y="2237">LgBiT–NET + SmBiT–NET</text>
<rect x="92" y="2245" width="13" height="14" fill="#279088"/><text x="112" y="2257">LgBiT–NET-IF1 + SmBiT–NET-IF1</text>
<rect x="92" y="2265" width="13" height="14" fill="#999999"/><text x="112" y="2277">LgBiT–NET-IF2 + SmBiT–NET-IF2</text>
<rect x="92" y="2284" width="13" height="14" fill="#eba49a"/><text x="112" y="2296">B1R–LgBiT + SmBiT–NET</text>
</g>
<path class="ax" stroke-width="1.1" d="M435,1993 V2209 H651"/>
<g font-size="13" fill="#333" text-anchor="end"><text x="429" y="2029">120</text><text x="429" y="2091">100</text><text x="429" y="2153">80</text><text x="429" y="2214">60</text></g>
<g font-size="14" fill="#333" text-anchor="middle"><text x="434" y="2231">0</text><text x="483" y="2231">1,000</text><text x="532" y="2231">2,000</text><text x="580" y="2231">3,000</text><text x="628" y="2231">4,000</text>
<text x="544" y="2255">Time (s)</text></g>
<text font-size="15" fill="#333" text-anchor="middle" transform="translate(391,2115) rotate(-90)">Normalized RFU</text>
<g stroke="#1c4f9a" stroke-width="0.8">
<path d="M580.2,2046 V2058 M599.6,2037 V2051 M618.9,2029 V2044 M638.3,2021 V2039 M560.8,2056 V2066 M541.5,2066 V2075"/>
</g>
<g stroke="#999" stroke-width="0.8"><path d="M512.4,2143 V2153 M531.8,2146 V2158 M551.2,2148 V2161 M570.5,2149 V2163 M589.9,2150 V2163 M609.2,2150 V2163 M628.6,2149 V2162"/></g>
<g fill="none" stroke-width="1.3">
<polyline stroke="#999" style="marker-start:url(#hT);marker-mid:url(#hT);marker-end:url(#hT)" points="435,2085.7 444.7,2101.7 454.4,2114.2 464,2123.9 473.7,2131.4 483.4,2137.4 493.1,2141.9 502.8,2145.4 512.4,2148.2 522.1,2150.4 531.8,2152.1 541.5,2153.4 551.2,2154.4 560.8,2155.2 570.5,2155.9 580.2,2156.3 589.9,2156.6 599.6,2156.8 609.2,2156.5 618.9,2156 628.6,2155.5 638.3,2155"/>
<polyline stroke="#22908a" style="marker-start:url(#hF);marker-mid:url(#hF);marker-end:url(#hF)" points="435,2085.7 444.7,2094.9 454.4,2102.6 464,2105.7 473.7,2107.3 483.4,2108.8 493.1,2108.8 502.8,2107.9 512.4,2107.3 522.1,2106.3 531.8,2104.8 541.5,2103.3 551.2,2101.7 560.8,2099.6 570.5,2097.4 580.2,2094.9 589.9,2092.5 599.6,2090 609.2,2087.3 618.9,2084.2 628.6,2081.1 638.3,2078"/>
<polyline stroke="#1c4f9a" style="marker-start:url(#hW);marker-mid:url(#hW);marker-end:url(#hW)" points="435,2085.7 444.7,2091.8 454.4,2096.5 464,2098 473.7,2096.5 483.4,2093.4 493.1,2088.8 502.8,2085.7 512.4,2082.6 522.1,2078 531.8,2073.4 541.5,2070.3 551.2,2065.7 560.8,2061.1 570.5,2056.4 580.2,2051.8 589.9,2048.7 599.6,2044.1 609.2,2041 618.9,2036.4 628.6,2033.3 638.3,2030.2"/>
</g>
<g font-size="15" fill="#333">
<path d="M446,2272 H466" stroke="#1c4f9a" stroke-width="1.5"/><circle cx="456" cy="2272" r="2.5" fill="#1c4f9a"/><text x="470" y="2277">NET-WT</text>
<path d="M545,2272 H565" stroke="#22908a" stroke-width="1.5"/><rect x="552" y="2269" width="6" height="6" fill="#22908a"/><text x="569" y="2277">NET-IF1</text>
<path d="M497,2292 H517" stroke="#999" stroke-width="1.5"/><path d="M507,2288 L511,2295 L503,2295 Z" fill="#999"/><text x="521" y="2297">NET-IF2</text>
</g>

<!-- ================= SWATCH ROW 5 ================= -->
<g class="sw" transform="translate(0,2334)">
<rect x="18" y="0" width="149" height="149" rx="3" fill="#1d5595"/>
<rect x="194" y="0" width="149" height="149" rx="3" fill="#268e8d"/>
<rect x="369" y="0" width="149" height="149" rx="3" fill="#999999"/>
<rect x="544" y="0" width="149" height="149" rx="3" fill="#eba89b"/>
<g class="w"><text x="92.5" y="40">#015493</text><text x="92.5" y="61">RGB 1, 84, 147</text><text x="92.5" y="82">HSB 206, 99, 58</text><text x="92.5" y="103">CMYK 99, 43, 0, 42</text><text x="92.5" y="124">LAB 35, 4, -41</text></g>
<g class="w"><text x="268.5" y="40">#019092</text><text x="268.5" y="61">RGB 1, 144, 146</text><text x="268.5" y="82">HSB 181, 99, 57</text><text x="268.5" y="103">CMYK 99, 1, 0, 43</text><text x="268.5" y="124">LAB 54, -31, -10</text></g>
<g class="d"><text x="443.5" y="40">#999999</text><text x="443.5" y="61">RGB 153, 153, 153</text><text x="443.5" y="82">HSB 0, 0, 60</text><text x="443.5" y="103">CMYK 0, 0, 0, 40</text><text x="443.5" y="124">LAB 63, 0, 0</text></g>
<g class="d"><text x="618.5" y="40">#F4A99B</text><text x="618.5" y="61">RGB 244, 169, 155</text><text x="618.5" y="82">HSB 9, 36, 96</text><text x="618.5" y="103">CMYK 0, 31, 36, 4</text><text x="618.5" y="124">LAB 76, 26, 18</text></g>
<circle cx="537" cy="119" r="6" fill="rgba(160,160,160,0.6)"/><circle cx="545" cy="123" r="5" fill="rgba(150,150,150,0.6)"/>
<text class="wm" x="556" y="127">公众号 · Paul</text>
</g>

<!-- ================= FIGURE 6 ================= -->
<text class="lb" x="42" y="2534" font-size="18">b</text>
<text class="lb" x="387" y="2534" font-size="18">e</text>
<!-- choline molecule -->
<rect x="171" y="2524" width="12" height="15" fill="#c8cdf5"/>
<text x="172" y="2536" font-size="10" fill="#223">N</text><text x="163" y="2528" font-size="8" fill="#223">+</text>
<path d="M166,2521 L177,2531 M168,2544 L177,2533 M182,2542 L186,2548 M183,2532 L191,2538 L199,2530 L206,2534" stroke="#333" stroke-width="1.2" fill="none"/>
<rect x="205" y="2521" width="17" height="12" fill="#f4b0b0"/><text x="206" y="2531" font-size="9" fill="#c33">OH</text>
<text x="231" y="2539" font-size="12" fill="#333">(Choline)</text>
<!-- ethanolamine -->
<rect x="494" y="2529" width="9" height="14" fill="#8fa6ec"/>
<text x="494" y="2540" font-size="9" fill="#223">N</text><text x="488" y="2528" font-size="8" fill="#223">+</text>
<path d="M503,2536 L512,2528 L522,2534 L530,2528" stroke="#f0c030" stroke-width="5" fill="none" opacity="0.8"/>
<path d="M503,2536 L512,2528 L522,2534 L530,2528" stroke="#333" stroke-width="1" fill="none"/>
<rect x="528" y="2520" width="18" height="13" fill="#f4b0b0"/><text x="530" y="2531" font-size="9" fill="#c33">OH</text>
<text x="556" y="2539" font-size="12" fill="#333">(Ethanolamine)</text>
<!-- axes b -->
<path class="ax" stroke-width="1" d="M128,2647 V2789 H337"/>
<g font-size="12" fill="#333" text-anchor="end"><text x="124" y="2651">80,000</text><text x="124" y="2687">60,000</text><text x="124" y="2722">40,000</text><text x="124" y="2758">20,000</text><text x="124" y="2793">0</text></g>
<text font-size="12" fill="#333" text-anchor="middle" transform="translate(68,2712) rotate(-90)">DPM per mg protein</text>
<g stroke="#222" stroke-width="1">
<rect x="150" y="2767" width="30" height="22" fill="#8f8f8f"/>
<rect x="197" y="2695" width="31" height="94" fill="#3b87d2"/>
<rect x="243" y="2660" width="32" height="129" fill="#1e8a84"/>
<rect x="291" y="2767" width="30" height="22" fill="#6fcba8"/>
</g>
<g stroke="#333" stroke-width="1" fill="none">
<path d="M212.5,2683 V2707 M207,2683 H218 M207,2707 H218 M259,2653 V2667 M254,2653 H264"/>
<circle cx="158" cy="2765" r="2.5"/><circle cx="165" cy="2765" r="2.5"/><circle cx="172" cy="2765" r="2.5"/>
<circle cx="212.5" cy="2683" r="2.5"/><circle cx="212.5" cy="2700" r="2.5"/><circle cx="212.5" cy="2712" r="2.5"/>
<circle cx="254" cy="2654" r="2.5"/><circle cx="262" cy="2658" r="2.5"/><circle cx="259" cy="2666" r="2.5"/>
<circle cx="299" cy="2765" r="2.5"/><circle cx="306" cy="2765" r="2.5"/><circle cx="313" cy="2765" r="2.5"/>
<path d="M165,2757 V2572 H306.6 V2757 M165,2602 H260 V2650 M165,2633 H208.3 V2673 M215.5,2673 V2633 H260"/>
</g>
<g font-size="12" fill="#333" text-anchor="middle"><text x="234" y="2566">NS</text><text x="212" y="2599">****</text><text x="187" y="2630">****</text><text x="237" y="2630">**</text></g>
<g font-size="12" fill="#333" text-anchor="end">
<text transform="translate(167,2800) rotate(-55)">Mock</text>
<text font-style="italic" transform="translate(214,2800) rotate(-55)">FLVCR1</text>
<text font-style="italic" transform="translate(261,2800) rotate(-55)">FLVCR2</text>
<text font-style="italic" transform="translate(308,2800) rotate(-55)">FLVCR2<tspan font-size="8" dy="-5">S203Y</tspan></text>
</g>
<path d="M143,2871 H326" stroke="#333" stroke-width="1"/>
<text x="234" y="2889" font-size="12" fill="#333" text-anchor="middle">CHKA</text>
<!-- axes e -->
<path class="ax" stroke-width="1" d="M471,2647 V2789 H681"/>
<g font-size="12" fill="#333" text-anchor="end"><text x="467" y="2651">40,000</text><text x="467" y="2687">30,000</text><text x="467" y="2722">20,000</text><text x="467" y="2758">10000</text><text x="467" y="2793">0</text></g>
<text font-size="12" fill="#333" text-anchor="middle" transform="translate(411,2712) rotate(-90)">DPM per mg protein</text>
<g stroke="#222" stroke-width="1">
<rect x="494" y="2769" width="30" height="20" fill="#8f8f8f"/>
<rect x="540" y="2690" width="32" height="99" fill="#3b87d2"/>
<rect x="587" y="2747" width="32" height="42" fill="#1e8a84"/>
<rect x="635" y="2771" width="30" height="18" fill="#6fcba8"/>
</g>
<g stroke="#333" stroke-width="1" fill="none">
<circle cx="502" cy="2768" r="2.5"/><circle cx="509" cy="2768" r="2.5"/><circle cx="516" cy="2768" r="2.5"/>
<circle cx="550" cy="2689" r="2.5"/><circle cx="557" cy="2692" r="2.5"/><circle cx="563" cy="2690" r="2.5"/>
<circle cx="598" cy="2741" r="2.5"/><circle cx="605" cy="2748" r="2.5"/><circle cx="600" cy="2754" r="2.5"/>
<circle cx="643" cy="2770" r="2.5"/><circle cx="650" cy="2770" r="2.5"/><circle cx="657" cy="2770" r="2.5"/>
<path d="M603,2740 V2756 M598,2740 H608"/>
<path d="M555,2680 V2603 H650 V2762 M509,2760 V2635 H603 V2738 M509,2666 H553 V2682 M559,2682 V2666 H603"/>
</g>
<g font-size="12" fill="#333" text-anchor="middle"><text x="601" y="2601">****</text><text x="555" y="2631">***</text><text x="532" y="2663">****</text><text x="582" y="2663">****</text></g>
<g font-size="12" fill="#333" text-anchor="end">
<text transform="translate(511,2800) rotate(-55)">Mock</text>
<text font-style="italic" transform="translate(558,2800) rotate(-55)">FLVCR1</text>
<text font-style="italic" transform="translate(605,2800) rotate(-55)">FLVCR2</text>
<text font-style="italic" transform="translate(652,2800) rotate(-55)">FLVCR2<tspan font-size="8" dy="-5">S203Y</tspan></text>
</g>
<path d="M486,2871 H670" stroke="#333" stroke-width="1"/>
<text x="577" y="2889" font-size="12" fill="#333" text-anchor="middle">ETNK1</text>

<!-- ================= SWATCH ROW 6 ================= -->
<g class="sw" transform="translate(0,2924)">
<rect x="18" y="0" width="149" height="149" rx="3" fill="#8f8f8f"/>
<rect x="194" y="0" width="149" height="149" rx="3" fill="#3d89d1"/>
<rect x="369" y="0" width="149" height="149" rx="3" fill="#268e8d"/>
<rect x="544" y="0" width="149" height="149" rx="3" fill="#7cc9a7"/>
<g class="d"><text x="92.5" y="40">#909090</text><text x="92.5" y="61">RGB 144, 144, 144</text><text x="92.5" y="82">HSB 0, 0, 56</text><text x="92.5" y="103">CMYK 0, 0, 0, 44</text><text x="92.5" y="124">LAB 60, 0, 0</text></g>
<g class="w"><text x="268.5" y="40">#0095FF</text><text x="268.5" y="61">RGB 0, 149, 255</text><text x="268.5" y="82">HSB 205, 100, 100</text><text x="268.5" y="103">CMYK 100, 42, 0, 0</text><text x="268.5" y="124">LAB 61, 6, -62</text></g>
<g class="w"><text x="443.5" y="40">#019092</text><text x="443.5" y="61">RGB 1, 144, 146</text><text x="443.5" y="82">HSB 181, 99, 57</text><text x="443.5" y="103">CMYK 99, 1, 0, 43</text><text x="443.5" y="124">LAB 54, -31, -10</text></g>
<g class="d"><text x="618.5" y="40">#6FDCB5</text><text x="618.5" y="61">RGB 111, 220, 181</text><text x="618.5" y="82">HSB 159, 50, 86</text><text x="618.5" y="103">CMYK 50, 0, 18, 14</text><text x="618.5" y="124">LAB 83, -41, 10</text></g>
<circle cx="537" cy="119" r="6" fill="rgba(160,160,160,0.6)"/><circle cx="545" cy="123" r="5" fill="rgba(150,150,150,0.6)"/>
<text class="wm" x="556" y="127">公众号 · Paul</text>
</g>

<!-- ================= FIGURE 7: k ================= -->
<text class="lb" x="42" y="3111" font-size="8">k</text>
<text font-size="8" fill="#444" text-anchor="middle" transform="translate(59,3159) rotate(-90)">AUROC</text>
<g class="ax"><path d="M81,3114 V3213 H167 M208,3114 V3213 H294 M337,3114 V3213 H424 M466,3114 V3213 H552 M596,3114 V3213 H680"/></g>
<g class="tr" font-size="7">
<text x="78" y="3120">0.8</text><text x="78" y="3137">0.7</text><text x="78" y="3155">0.6</text><text x="78" y="3172">0.5</text><text x="78" y="3190">0.4</text><text x="78" y="3207">0.3</text>
<text x="205" y="3120">0.8</text><text x="205" y="3137">0.7</text><text x="205" y="3155">0.6</text><text x="205" y="3172">0.5</text><text x="205" y="3190">0.4</text><text x="205" y="3207">0.3</text>
<text x="334" y="3120">0.8</text><text x="334" y="3137">0.7</text><text x="334" y="3155">0.6</text><text x="334" y="3172">0.5</text><text x="334" y="3190">0.4</text><text x="334" y="3207">0.3</text>
<text x="463" y="3120">0.8</text><text x="463" y="3137">0.7</text><text x="463" y="3155">0.6</text><text x="463" y="3172">0.5</text><text x="463" y="3190">0.4</text><text x="463" y="3207">0.3</text>
<text x="593" y="3120">0.8</text><text x="593" y="3137">0.7</text><text x="593" y="3155">0.6</text><text x="593" y="3172">0.5</text><text x="593" y="3190">0.4</text><text x="593" y="3207">0.3</text>
</g>
<g>
<rect x="86" y="3123.6" width="18" height="89.4" fill="#2e2d54"/><rect x="105.5" y="3151.5" width="18" height="61.5" fill="#9193b4"/><rect x="125" y="3162.9" width="18" height="50.1" fill="#bd9aad"/><rect x="144.5" y="3148.9" width="18" height="64.1" fill="#e8d2b3"/>
<rect x="213" y="3160.3" width="18" height="52.7" fill="#2e2d54"/><rect x="232.5" y="3176" width="18" height="37" fill="#9193b4"/><rect x="252" y="3169.9" width="18" height="43.1" fill="#bd9aad"/><rect x="271.5" y="3166.4" width="18" height="46.6" fill="#e8d2b3"/>
<rect x="342" y="3150.7" width="18" height="62.3" fill="#2e2d54"/><rect x="361.5" y="3153.3" width="18" height="59.7" fill="#9193b4"/><rect x="381" y="3175.1" width="18" height="37.9" fill="#bd9aad"/><rect x="400.5" y="3155.9" width="18" height="57.1" fill="#e8d2b3"/>
<rect x="471" y="3152.4" width="18" height="60.6" fill="#2e2d54"/><rect x="490.5" y="3161.1" width="18" height="51.9" fill="#9193b4"/><rect x="510" y="3164.6" width="18" height="48.4" fill="#bd9aad"/><rect x="529.5" y="3160.3" width="18" height="52.7" fill="#e8d2b3"/>
<rect x="601" y="3126.2" width="18" height="86.8" fill="#2e2d54"/><rect x="620.5" y="3138.4" width="18" height="74.6" fill="#9193b4"/><rect x="640" y="3143.7" width="18" height="69.3" fill="#bd9aad"/><rect x="659.5" y="3134.1" width="18" height="78.9" fill="#e8d2b3"/>
</g>
<g fill="#ccc" opacity="0.8">
<circle cx="92" cy="3118" r="1.3"/><circle cx="98" cy="3128" r="1.3"/><circle cx="112" cy="3142" r="1.3"/><circle cx="131" cy="3155" r="1.3"/><circle cx="150" cy="3138" r="1.3"/><circle cx="157" cy="3145" r="1.3"/>
<circle cx="220" cy="3150" r="1.3"/><circle cx="258" cy="3160" r="1.3"/><circle cx="280" cy="3140" r="1.3"/><circle cx="349" cy="3143" r="1.3"/><circle cx="387" cy="3165" r="1.3"/><circle cx="478" cy="3140" r="1.3"/><circle cx="536" cy="3150" r="1.3"/><circle cx="608" cy="3118" r="1.3"/><circle cx="666" cy="3125" r="1.3"/>
</g>
<g stroke="#333" stroke-width="0.7"><path d="M95,3121 V3127 M114.5,3148 V3155 M134,3159 V3167 M153.5,3145 V3153 M222,3156 V3164 M241.5,3173 V3179 M261,3166 V3174 M280.5,3160 V3173 M351,3148 V3154 M370.5,3150 V3156 M390,3171 V3179 M480,3149 V3156 M519,3161 V3168 M538.5,3156 V3164 M610,3123 V3129 M629.5,3134 V3142 M649,3139 V3148 M668.5,3131 V3137"/></g>
<g stroke="#333" stroke-width="0.7"><path d="M95,3112 H153 M222,3112 H281 M351,3112 H371 M480,3112 H539 M610,3112 H669"/></g>
<g class="tm" font-size="8"><text x="124" y="3109"><tspan font-style="italic">P</tspan> = 0.002</text><text x="251" y="3109"><tspan font-style="italic">P</tspan> = 0.216</text><text x="372" y="3109"><tspan font-style="italic">P</tspan> = 0.188</text><text x="507" y="3109"><tspan font-style="italic">P</tspan> = 0.010</text><text x="636" y="3109"><tspan font-style="italic">P</tspan> &lt; 0.001</text></g>
<g class="tm" font-size="8" font-style="italic"><text x="123" y="3224">EGFR</text><text x="251" y="3224">FAT1</text><text x="380" y="3224">KRAS</text><text x="508" y="3224">LRP1B</text><text x="636" y="3224">TP53</text></g>
<!-- l -->
<text class="lb" x="42" y="3230" font-size="8">l</text>
<text font-size="8" fill="#444" text-anchor="middle" transform="translate(53,3305) rotate(-90)">AUROC</text>
<path class="ax" d="M80,3228 V3377 H619"/>
<g class="tr" font-size="7"><text x="76" y="3234">0.80</text><text x="76" y="3263">0.75</text><text x="76" y="3292">0.70</text><text x="76" y="3322">0.65</text><text x="76" y="3351">0.60</text><text x="76" y="3380">0.55</text></g>
<g fill="#999">
<rect x="103.5" y="3305.6" width="5" height="5"/><rect x="160.9" y="3347.1" width="5" height="5"/><rect x="189.6" y="3343.5" width="5" height="5"/><rect x="218.3" y="3303.3" width="5" height="5"/><rect x="247" y="3306.2" width="5" height="5"/><rect x="275.7" y="3314.9" width="5" height="5"/><rect x="304.4" y="3310.3" width="5" height="5"/><rect x="333.1" y="3314.9" width="5" height="5"/><rect x="361.8" y="3319" width="5" height="5"/><rect x="390.5" y="3326.6" width="5" height="5"/><rect x="419.2" y="3335.4" width="5" height="5"/><rect x="447.9" y="3345.3" width="5" height="5"/><rect x="476.6" y="3366.9" width="5" height="5"/><rect x="505.3" y="3359.3" width="5" height="5"/><rect x="534" y="3358.1" width="5" height="5"/><rect x="591.4" y="3352.9" width="5" height="5"/>
</g>
<g fill="#d4d4d4">
<path d="M106,3251.4 l2.5,4.5 h-5 Z M134.7,3308.6 l2.5,4.5 h-5 Z M163.4,3293.4 l2.5,4.5 h-5 Z M192.1,3303.9 l2.5,4.5 h-5 Z M220.8,3308.6 l2.5,4.5 h-5 Z M249.5,3315.6 l2.5,4.5 h-5 Z M278.2,3313.8 l2.5,4.5 h-5 Z M306.9,3315.6 l2.5,4.5 h-5 Z M335.6,3321.4 l2.5,4.5 h-5 Z M364.3,3358.2 l2.5,4.5 h-5 Z M393,3321.4 l2.5,4.5 h-5 Z M421.7,3333.1 l2.5,4.5 h-5 Z M450.4,3348.9 l2.5,4.5 h-5 Z M479.1,3354.7 l2.5,4.5 h-5 Z M507.8,3358.2 l2.5,4.5 h-5 Z M536.5,3360.6 l2.5,4.5 h-5 Z M593.9,3359.4 l2.5,4.5 h-5 Z"/>
</g>
<g stroke="#aaa" stroke-width="1">
<path d="M103.5,3262.4 l5,5 m0,-5 l-5,5 M132.2,3314.9 l5,5 m0,-5 l-5,5 M160.9,3304.4 l5,5 m0,-5 l-5,5 M189.6,3323.1 l5,5 m0,-5 l-5,5 M218.3,3307.3 l5,5 m0,-5 l-5,5 M247,3319 l5,5 m0,-5 l-5,5 M275.7,3313.2 l5,5 m0,-5 l-5,5 M304.4,3313.2 l5,5 m0,-5 l-5,5 M333.1,3327.8 l5,5 m0,-5 l-5,5 M361.8,3321.9 l5,5 m0,-5 l-5,5 M390.5,3336.5 l5,5 m0,-5 l-5,5 M419.2,3336.5 l5,5 m0,-5 l-5,5 M447.9,3348.2 l5,5 m0,-5 l-5,5 M476.6,3359.9 l5,5 m0,-5 l-5,5 M505.3,3358.1 l5,5 m0,-5 l-5,5 M534,3359.9 l5,5 m0,-5 l-5,5 M591.4,3362.8 l5,5 m0,-5 l-5,5"/>
</g>
<g fill="#1a1a1a">
<circle cx="106" cy="3245.6" r="3"/><circle cx="134.7" cy="3277.7" r="3"/><circle cx="163.4" cy="3281.8" r="3"/><circle cx="192.1" cy="3293.5" r="3"/><circle cx="220.8" cy="3301.1" r="3"/><circle cx="249.5" cy="3301.7" r="3"/><circle cx="278.2" cy="3303.4" r="3"/><circle cx="306.9" cy="3308.1" r="3"/><circle cx="335.6" cy="3314.5" r="3"/><circle cx="364.3" cy="3319.8" r="3"/><circle cx="393" cy="3325.6" r="3"/><circle cx="421.7" cy="3335.5" r="3"/><circle cx="450.4" cy="3344.3" r="3"/><circle cx="479.1" cy="3352.5" r="3"/><circle cx="507.8" cy="3354.2" r="3"/><circle cx="536.5" cy="3356" r="3"/><circle cx="565.2" cy="3368.8" r="3"/><circle cx="593.9" cy="3368.8" r="3"/>
</g>
<g font-size="8" fill="#444" font-style="italic" text-anchor="end">
<text transform="translate(109,3385) rotate(-45)">CD274</text><text transform="translate(137.7,3385) rotate(-45)">KRAS</text><text transform="translate(166.4,3385) rotate(-45)">APC</text><text transform="translate(195.1,3385) rotate(-45)">TP53</text><text transform="translate(223.8,3385) rotate(-45)">SPTA1</text><text transform="translate(252.5,3385) rotate(-45)">KMT2D</text><text transform="translate(281.2,3385) rotate(-45)">LRP1B</text><text transform="translate(309.9,3385) rotate(-45)">FAT1</text><text transform="translate(338.6,3385) rotate(-45)">PRKDC</text><text transform="translate(367.3,3385) rotate(-45)">EGFR</text><text transform="translate(396,3385) rotate(-45)">ZFHX3</text><text transform="translate(424.7,3385) rotate(-45)">KMT2C</text><text transform="translate(453.4,3385) rotate(-45)">NOTCH1</text><text transform="translate(482.1,3385) rotate(-45)">ARID1A</text><text transform="translate(510.8,3385) rotate(-45)">ROS1</text><text transform="translate(539.5,3385) rotate(-45)">ATM</text><text transform="translate(568.2,3385) rotate(-45)">PIK3CA</text><text transform="translate(596.9,3385) rotate(-45)">KMT2A</text>
</g>
<g font-size="8" fill="#444">
<circle cx="607" cy="3245" r="2.8" fill="#1a1a1a"/><text x="614" y="3248">Prov-GigaPath</text>
<path d="M604.5,3251.5 l5,5 m0,-5 l-5,5" stroke="#aaa"/><text x="614" y="3257">HIPT</text>
<rect x="604.5" y="3261.5" width="5" height="5" fill="#999"/><text x="614" y="3267">CtransPath</text>
<path d="M607,3270 l2.5,4.5 h-5 Z" fill="#d4d4d4"/><text x="614" y="3276">REMEDIS</text>
</g>

<!-- ================= SWATCH ROW 7 ================= -->
<g class="sw" transform="translate(0,3439)">
<rect x="18" y="0" width="149" height="149" rx="3" fill="#2e2e55"/>
<rect x="194" y="0" width="149" height="149" rx="3" fill="#8e91b2"/>
<rect x="369" y="0" width="149" height="149" rx="3" fill="#b99bac"/>
<rect x="544" y="0" width="149" height="149" rx="3" fill="#e6d1b3"/>
<g class="w"><text x="92.5" y="40">#2F2D54</text><text x="92.5" y="61">RGB 47, 45, 84</text><text x="92.5" y="82">HSB 243, 46, 33</text><text x="92.5" y="103">CMYK 44, 46, 0, 67</text><text x="92.5" y="124">LAB 21, 12, -23</text></g>
<g class="d"><text x="268.5" y="40">#9193B4</text><text x="268.5" y="61">RGB 145, 147, 180</text><text x="268.5" y="82">HSB 237, 19, 71</text><text x="268.5" y="103">CMYK 19, 18, 0, 29</text><text x="268.5" y="124">LAB 62, 6, -17</text></g>
<g class="d"><text x="443.5" y="40">#BD9AAD</text><text x="443.5" y="61">RGB 189, 154, 173</text><text x="443.5" y="82">HSB 327, 19, 74</text><text x="443.5" y="103">CMYK 0, 19, 8, 26</text><text x="443.5" y="124">LAB 67, 16, -5</text></g>
<g class="d"><text x="618.5" y="40">#E8D2B3</text><text x="618.5" y="61">RGB 232, 210, 179</text><text x="618.5" y="82">HSB 35, 23, 91</text><text x="618.5" y="103">CMYK 0, 9, 23, 9</text><text x="618.5" y="124">LAB 85, 3, 18</text></g>
<circle cx="537" cy="119" r="6" fill="rgba(160,160,160,0.6)"/><circle cx="545" cy="123" r="5" fill="rgba(150,150,150,0.6)"/>
<text class="wm" x="556" y="127">公众号 · Paul</text>
</g>

<!-- ================= FIGURE 8 ================= -->
<g class="lb" font-size="8">
<text x="30" y="3626">a</text><text x="146" y="3626">b</text><text x="281" y="3626">c</text><text x="424" y="3626">d</text><text x="511" y="3626">e</text><text x="594" y="3626">f</text>
<text x="30" y="3740">g</text><text x="138" y="3740">h</text><text x="244" y="3740">i</text><text x="362" y="3740">j</text><text x="523" y="3740">k</text><text x="609" y="3740">l</text>
<text x="30" y="3839">m</text><text x="164" y="3839">n</text><text x="283" y="3839">o</text><text x="417" y="3839">p</text><text x="493" y="3839">q</text><text x="602" y="3839">r</text>
<text x="30" y="3948">s</text><text x="122" y="3948">t</text><text x="217" y="3948">u</text><text x="311" y="3948">v</text><text x="406" y="3948">w</text><text x="494" y="3948">x</text><text x="592" y="3948">y</text>
</g>
<!-- a -->
<g font-size="5.5" fill="#333" text-anchor="middle">
<rect x="36" y="3637" width="50" height="12" fill="#d6d6d6"/><text x="61" y="3645">Vehicle</text>
<rect x="36" y="3655" width="50" height="12" fill="#9cb0c3"/><text x="61" y="3663">MK-801</text>
<rect x="36" y="3673" width="50" height="12" fill="#7c9d97"/><text x="61" y="3681">GLP-1</text>
<rect x="36" y="3690" width="50" height="12" fill="#eab080"/><text x="61" y="3698">GLP-1-MK-801</text>
</g>
<path d="M99,3650 Q104,3636 118,3637 Q133,3638 135,3650 Z" fill="#d6d6d6"/>
<path d="M99,3668 Q104,3654 118,3655 Q133,3656 135,3668 Z" fill="#9cb0c3"/>
<path d="M99,3686 Q104,3672 118,3673 Q133,3674 135,3686 Z" fill="#7c9d97"/>
<path d="M99,3703 Q104,3689 118,3690 Q133,3691 135,3703 Z" fill="#eab080"/>
<!-- b -->
<g font-size="5" fill="#444"><circle cx="178" cy="3621" r="1.6" fill="#ddd" stroke="#777" stroke-width="0.5"/><text x="182" y="3623">Vehicle</text><circle cx="178" cy="3628" r="1.6" fill="#888"/><text x="182" y="3630">GLP-1</text><circle cx="219" cy="3621" r="1.6" fill="#aaa"/><text x="223" y="3623">MK-801</text><circle cx="219" cy="3628" r="1.6" fill="#999"/><text x="223" y="3630">GLP-1-MK-801</text></g>
<path class="ax" stroke-width="0.6" d="M173,3636 V3710 H261"/>
<g class="tr" font-size="5"><text x="170" y="3641">5</text><text x="170" y="3651">0</text><text x="170" y="3661">−5</text><text x="170" y="3671">−10</text><text x="170" y="3682">−15</text><text x="170" y="3692">−20</text><text x="170" y="3702">−25</text></g>
<g class="tm" font-size="5"><text x="173" y="3716">0</text><text x="185.6" y="3716">2</text><text x="198.1" y="3716">4</text><text x="210.7" y="3716">6</text><text x="223.3" y="3716">8</text><text x="235.9" y="3716">10</text><text x="248.4" y="3716">12</text><text x="261" y="3716">14</text><text x="217" y="3723">Time (days)</text></g>
<text class="tm" font-size="5" transform="translate(162,3673) rotate(-90)">ΔBody weight (%)</text>
<g fill="none" stroke="#777" stroke-width="0.6">
<polyline style="marker-start:url(#mo);marker-mid:url(#mo);marker-end:url(#mo)" points="173,3648 179.3,3646 185.6,3646 191.8,3647 198.1,3647 204.4,3647 210.7,3647 217,3647 223.3,3646 229.6,3646 235.9,3645 242.1,3645 248.4,3645 254.7,3645 261,3645"/>
<polyline style="marker-start:url(#mo);marker-mid:url(#mo);marker-end:url(#mo)" points="173,3648 179.3,3656 185.6,3661 191.8,3662 198.1,3663 204.4,3664 210.7,3664 217,3665 223.3,3665 229.6,3665 235.9,3666 242.1,3666 248.4,3666 254.7,3666 261,3667"/>
<polyline style="marker-start:url(#mo);marker-mid:url(#mo);marker-end:url(#mo)" points="173,3648 179.3,3659 185.6,3666 191.8,3671 198.1,3675 204.4,3678 210.7,3681 217,3683 223.3,3686 229.6,3688 235.9,3690 242.1,3691 248.4,3692 254.7,3693 261,3694"/>
<path d="M266,3646 V3694 M270,3646 V3667 M274,3667 V3694" stroke="#444"/>
</g>
<!-- c -->
<path class="ax" stroke-width="0.6" d="M312,3636 V3710 H399"/>
<g class="tr" font-size="5"><text x="309" y="3642">40</text><text x="309" y="3660">30</text><text x="309" y="3678">20</text><text x="309" y="3695">10</text><text x="309" y="3712">0</text></g>
<g class="tm" font-size="5"><text x="312" y="3716">0</text><text x="337" y="3716">4</text><text x="362" y="3716">8</text><text x="386.6" y="3716">12</text><text x="355" y="3723">Time (days)</text></g>
<text class="tm" font-size="5" transform="translate(301,3673) rotate(-90)">Cumulative food intake (g)</text>
<g fill="none" stroke="#777" stroke-width="0.6">
<polyline style="marker-start:url(#mo);marker-mid:url(#mo);marker-end:url(#mo)" points="312,3710 318.2,3706 324.4,3701 330.6,3696 336.9,3691 343.1,3687 349.3,3682 355.5,3677 361.7,3673 367.9,3668 374.1,3663 380.4,3659 386.6,3654 392.8,3650 399,3645"/>
<polyline style="marker-start:url(#mo);marker-mid:url(#mo);marker-end:url(#mo)" points="312,3710 318.2,3708 324.4,3705 330.6,3702 336.9,3699 343.1,3696 349.3,3692 355.5,3689 361.7,3685 367.9,3682 374.1,3678 380.4,3675 386.6,3672 392.8,3669 399,3666"/>
<polyline style="marker-start:url(#mo);marker-mid:url(#mo);marker-end:url(#mo)" points="312,3710 318.2,3710 324.4,3708 330.6,3706 336.9,3704 343.1,3702 349.3,3700 355.5,3698 361.7,3696 367.9,3694 374.1,3692 380.4,3689 386.6,3687 392.8,3685 399,3683"/>
<path d="M403,3645 V3683 M407,3645 V3666" stroke="#444"/>
</g>
<!-- d e f -->
<path class="ax" stroke-width="0.6" d="M442,3640 V3715 M442,3652 H495 M523,3640 V3715 M523,3652 H575 M620,3645 V3713 H680"/>
<g class="tr" font-size="5"><text x="439" y="3654">0</text><text x="439" y="3671">−25</text><text x="439" y="3688">−50</text><text x="439" y="3705">−75</text>
<text x="520" y="3654">0</text><text x="520" y="3671">−25</text><text x="520" y="3688">−50</text><text x="520" y="3705">−75</text>
<text x="617" y="3653">5,000</text><text x="617" y="3665">4,000</text><text x="617" y="3678">3,000</text><text x="617" y="3690">2,000</text><text x="617" y="3703">1,000</text><text x="617" y="3715">0</text></g>
<g stroke="#555" stroke-width="0.4">
<rect x="447" y="3647" width="9" height="5" fill="#d6d6d6"/><rect x="458" y="3648" width="9" height="4" fill="#9cb0c3"/><rect x="469" y="3652" width="9" height="14" fill="#7c9d97"/><rect x="480" y="3652" width="9" height="28" fill="#eab080"/>
<rect x="528" y="3650" width="9" height="2" fill="#d6d6d6"/><rect x="539" y="3651" width="9" height="1" fill="#9cb0c3"/><rect x="550" y="3652" width="9" height="3" fill="#7c9d97"/><rect x="561" y="3652" width="9" height="4" fill="#eab080"/>
<rect x="625" y="3690" width="11" height="23" fill="#d6d6d6"/><rect x="638" y="3685" width="11" height="28" fill="#9cb0c3"/><rect x="651" y="3699" width="11" height="14" fill="#7c9d97"/><rect x="664" y="3706" width="11" height="7" fill="#eab080"/>
</g>
<g stroke="#444" stroke-width="0.6"><path d="M460,3675 H478 M466,3695 H490 M532,3666 H548 M545,3660 H570 M640,3648 H675 M643,3655 H665"/></g>
<g font-size="5" fill="#444"><text x="461" y="3673">****</text><text x="470" y="3702">****</text><text x="535" y="3672">****</text><text x="548" y="3664">*******</text></g>
<!-- g h -->
<path class="ax" stroke-width="0.6" d="M56,3747 V3812 H110 M160,3747 V3812 H214"/>
<g class="tr" font-size="5"><text x="53" y="3750">250</text><text x="53" y="3763">200</text><text x="53" y="3776">150</text><text x="53" y="3789">100</text><text x="53" y="3802">50</text><text x="53" y="3814">0</text>
<text x="157" y="3750">250</text><text x="157" y="3763">200</text><text x="157" y="3776">150</text><text x="157" y="3789">100</text><text x="157" y="3802">50</text><text x="157" y="3814">0</text></g>
<g stroke="#555" stroke-width="0.4">
<rect x="60" y="3782" width="11" height="30" fill="#d6d6d6"/><rect x="73" y="3783" width="11" height="29" fill="#9cb0c3"/><rect x="86" y="3787" width="11" height="25" fill="#7c9d97"/><rect x="99" y="3797" width="11" height="15" fill="#eab080"/>
<rect x="164" y="3786" width="11" height="26" fill="#d6d6d6"/><rect x="177" y="3787" width="11" height="25" fill="#9cb0c3"/><rect x="190" y="3795" width="11" height="17" fill="#7c9d97"/><rect x="203" y="3801" width="11" height="11" fill="#eab080"/>
</g>
<g stroke="#444" stroke-width="0.6"><path d="M78,3759 H103 M92,3773 H105 M182,3764 H207"/></g>
<g font-size="5" fill="#444"><text x="84" y="3757">****</text><text x="95" y="3771">**</text><text x="189" y="3762">***</text><text x="105" y="3796">****</text><text x="208" y="3798">****</text></g>
<!-- i -->
<g font-size="5.5" fill="#333" text-anchor="middle">
<rect x="246" y="3752" width="52" height="11" fill="#d6d6d6"/><text x="272" y="3760">Vehicle</text>
<rect x="246" y="3772" width="52" height="11" fill="#f2d27a"/><text x="272" y="3780">Cal. res.</text>
<rect x="246" y="3795" width="52" height="12" fill="#eab080"/><text x="272" y="3803">GLP-1-MK-801</text>
</g>
<path d="M307,3765 Q312,3751 326,3752 Q342,3753 345,3765 Z" fill="#d6d6d6"/>
<path d="M307,3785 Q312,3771 326,3772 Q342,3773 345,3785 Z" fill="#f2d27a"/>
<path d="M307,3808 Q312,3794 326,3795 Q342,3796 345,3808 Z" fill="#eab080"/>
<!-- j -->
<path class="ax" stroke-width="0.6" d="M387,3745 V3812 H498"/>
<g class="tr" font-size="5"><text x="384" y="3750">0</text><text x="384" y="3768">−10</text><text x="384" y="3786">−20</text><text x="384" y="3804">−30</text></g>
<g class="tm" font-size="5"><text x="387" y="3818">0</text><text x="409" y="3818">2</text><text x="431" y="3818">4</text><text x="453" y="3818">6</text><text x="475" y="3818">8</text><text x="497" y="3818">10</text><text x="442" y="3825">Time (days)</text></g>
<text class="tm" font-size="5" transform="translate(376,3780) rotate(-90)">ΔBody weight (%)</text>
<g fill="none" stroke="#777" stroke-width="0.6">
<polyline style="marker-start:url(#mo);marker-mid:url(#mo);marker-end:url(#mo)" points="387,3748 398,3748 409,3748 420,3749 431,3749 442,3749 453,3749 464,3749 475,3750 486,3750 495,3750"/>
<polyline style="marker-start:url(#mo);marker-mid:url(#mo);marker-end:url(#mo)" points="387,3748 398,3757 409,3763 420,3769 431,3774 442,3779 453,3784 464,3788 475,3792 486,3796 495,3800"/>
<polyline style="marker-start:url(#mo);marker-mid:url(#mo);marker-end:url(#mo)" points="387,3748 398,3759 409,3765 420,3771 431,3776 442,3781 453,3785 464,3789 475,3793 486,3797 495,3799"/>
<path d="M501,3750 V3800" stroke="#444"/>
</g>
<g font-size="5" fill="#444"><text x="396" y="3790">○ Vehicle</text><text x="396" y="3797">○ GLP-1-MK-801</text><text x="396" y="3804">◇ Calorie restriction</text></g>
<!-- k l -->
<path class="ax" stroke-width="0.6" d="M541,3744 V3822 M541,3755 H590 M624,3744 V3822 M624,3755 H672"/>
<g class="tr" font-size="5"><text x="538" y="3757">0</text><text x="538" y="3775">−25</text><text x="538" y="3794">−50</text><text x="538" y="3812">−75</text>
<text x="621" y="3757">0</text><text x="621" y="3775">−25</text><text x="621" y="3794">−50</text><text x="621" y="3812">−75</text></g>
<g stroke="#555" stroke-width="0.4">
<rect x="548" y="3755" width="10" height="8" fill="#d6d6d6"/><rect x="560" y="3755" width="10" height="52" fill="#eab080"/><rect x="572" y="3755" width="10" height="50" fill="#f0d27a"/>
<rect x="628" y="3755" width="10" height="2" fill="#d6d6d6"/><rect x="640" y="3755" width="10" height="7" fill="#eab080"/><rect x="652" y="3755" width="10" height="10" fill="#f0d27a"/>
</g>
<g font-size="5" fill="#444"><text x="560" y="3816">****</text><text x="574" y="3812">****</text><text x="640" y="3772">****</text><text x="652" y="3768">****</text></g>
<!-- m n o -->
<path class="ax" stroke-width="0.6" d="M65,3844 V3911 H153 M201,3844 V3911 H270 M311,3844 V3911 H400"/>
<g class="tr" font-size="5"><text x="62" y="3850">0.8</text><text x="62" y="3862">0.7</text><text x="62" y="3875">0.6</text><text x="62" y="3887">0.5</text><text x="62" y="3899">0.4</text><text x="62" y="3912">0.3</text>
<text x="198" y="3850">0.8</text><text x="198" y="3862">0.7</text><text x="198" y="3875">0.6</text><text x="198" y="3887">0.5</text><text x="198" y="3899">0.4</text><text x="198" y="3912">0.3</text>
<text x="308" y="3855">0.85</text><text x="308" y="3883">0.75</text><text x="308" y="3909">0.65</text></g>
<g class="tm" font-size="5"><text x="109" y="3927">Time (days)</text><text x="236" y="3927">Final body weight (g)</text><text x="355" y="3927">Time (days)</text></g>
<g fill="none" stroke-width="1.6" opacity="0.75">
<polyline stroke="#c6b1c2" points="65,3868 69,3858 73,3870 77,3857 81,3869 85,3856 89,3870 93,3857 97,3869 101,3856 105,3870 109,3856 113,3868 117,3856 121,3869 125,3855 129,3868 133,3856 137,3867 141,3857 145,3868 149,3858 153,3866"/>
<polyline stroke="#ead99c" points="65,3872 69,3864 73,3878 77,3866 81,3882 85,3870 89,3884 93,3872 97,3886 101,3874 105,3888 109,3876 113,3890 117,3878 121,3892 125,3880 129,3894 133,3882 137,3896 141,3884 145,3898 149,3888 153,3900"/>
<polyline stroke="#c6b1c2" points="311,3862 315,3855 319,3866 323,3854 327,3864 331,3856 335,3866 339,3853 343,3864 347,3855 351,3866 355,3854 359,3863 363,3852 367,3864 371,3855 375,3866 379,3852 383,3862 387,3855 391,3865 395,3853 400,3862"/>
<polyline stroke="#ead99c" points="311,3878 315,3888 319,3880 323,3890 327,3884 331,3892 335,3886 339,3892 343,3887 347,3892 351,3886 355,3890 359,3882 363,3888 367,3878 371,3886 375,3876 379,3884 383,3874 387,3882 391,3872 395,3880 400,3875"/>
</g>
<g stroke="#777" stroke-width="0.5">
<circle cx="210" cy="3888" r="2" fill="#f2e3a0"/><circle cx="214" cy="3893" r="2" fill="#f2e3a0"/><circle cx="218" cy="3886" r="2" fill="#f2e3a0"/><circle cx="212" cy="3895" r="2" fill="#f2e3a0"/><circle cx="222" cy="3890" r="2" fill="#f2e3a0"/><circle cx="225" cy="3884" r="2" fill="#f2e3a0"/>
<circle cx="228" cy="3880" r="2" fill="#ddd"/><circle cx="234" cy="3876" r="2" fill="#ddd"/><circle cx="240" cy="3878" r="2" fill="#ddd"/><circle cx="246" cy="3872" r="2" fill="#ddd"/><circle cx="252" cy="3870" r="2" fill="#ddd"/><circle cx="258" cy="3866" r="2" fill="#ddd"/><circle cx="265" cy="3862" r="2" fill="#ddd"/>
<circle cx="212" cy="3870" r="2" fill="#ccc"/><circle cx="216" cy="3866" r="2" fill="#ccc"/><circle cx="222" cy="3868" r="2" fill="#ccc"/><circle cx="228" cy="3865" r="2" fill="#ccc"/><circle cx="236" cy="3858" r="2" fill="#ccc"/>
</g>
<g font-size="4.5" fill="#444"><text x="206" y="3849">○ versus ○: P = 0.036</text><text x="206" y="3855">○ versus ○: P = 0.001</text><text x="206" y="3861">○ versus ○: P &lt; 0.001</text></g>
<!-- p q r -->
<path class="ax" stroke-width="0.6" d="M444,3844 V3911 H496 M627,3844 V3911 H674"/>
<g class="tr" font-size="5"><text x="441" y="3850">0.85</text><text x="441" y="3878">0.75</text><text x="441" y="3907">0.65</text><text x="624" y="3848">15</text><text x="624" y="3866">10</text><text x="624" y="3885">5</text><text x="624" y="3911">0</text></g>
<g stroke="#555" stroke-width="0.4">
<rect x="450" y="3857" width="12" height="54" fill="#e2e2e2"/><rect x="466" y="3875" width="12" height="36" fill="#eab080"/><rect x="482" y="3875" width="12" height="36" fill="#f0d27a"/>
</g>
<g font-size="5.5" fill="#333" text-anchor="middle">
<rect x="495" y="3848" width="51" height="13" fill="#d6d6d6"/><text x="520.5" y="3857">Vehicle</text>
<rect x="495" y="3867" width="51" height="13" fill="#9cb0c3"/><text x="520.5" y="3876">MK-801</text>
<rect x="495" y="3884" width="51" height="12" fill="#7c9d97"/><text x="520.5" y="3892">GLP-1</text>
<rect x="495" y="3903" width="51" height="12" fill="#eab080"/><text x="520.5" y="3911">GLP-1-MK-801</text>
</g>
<path d="M555,3862 Q560,3848 575,3849 Q592,3850 595,3862 Z" fill="#d6d6d6"/>
<path d="M555,3881 Q560,3867 575,3868 Q592,3869 595,3881 Z" fill="#9cb0c3"/>
<path d="M555,3897 Q560,3883 575,3884 Q592,3885 595,3897 Z" fill="#7c9d97"/>
<path d="M555,3916 Q560,3902 575,3903 Q592,3904 595,3916 Z" fill="#eab080"/>
<g fill="none" stroke="#777" stroke-width="0.6">
<polyline style="marker-start:url(#mo);marker-mid:url(#mo);marker-end:url(#mo)" points="629,3870 638,3868 647,3866 660,3872 672,3866"/>
<polyline style="marker-start:url(#mo);marker-mid:url(#mo);marker-end:url(#mo)" points="629,3872 638,3870 647,3872 660,3874 672,3870"/>
<polyline style="marker-start:url(#mo);marker-mid:url(#mo);marker-end:url(#mo)" points="629,3880 638,3879 647,3882 660,3879 672,3876"/>
<polyline style="marker-start:url(#mo);marker-mid:url(#mo);marker-end:url(#mo)" points="629,3881 638,3882 647,3883 660,3880 672,3878"/>
</g>
<g font-size="5" fill="#444"><text x="634" y="3840">○ Vehicle</text><text x="634" y="3847">○ GLP-1</text><text x="634" y="3854">○ MK-801</text><text x="634" y="3861">○ GLP-1-MK-801</text><text x="631" y="3907">Day 0</text></g>
<!-- s t u v w y -->
<path class="ax" stroke-width="0.6" d="M56,3949 V4016 H110 M151,3949 V4016 H200 M248,3949 V4016 H300 M340,3949 V4016 H392 M433,3949 V4016 H485 M624,3949 V4016 H676"/>
<g class="tr" font-size="5"><text x="53" y="3953">400</text><text x="53" y="3970">300</text><text x="53" y="3986">200</text><text x="53" y="4002">100</text><text x="53" y="4018">0</text>
<text x="148" y="3953">25</text><text x="148" y="3970">20</text><text x="148" y="3986">15</text><text x="148" y="4002">10</text><text x="148" y="4018">5</text>
<text x="245" y="3953">2,500</text><text x="245" y="3970">2,000</text><text x="245" y="3986">1,500</text><text x="245" y="4002">1,000</text><text x="245" y="4018">500</text>
<text x="337" y="3953">15</text><text x="337" y="3975">10</text><text x="337" y="3997">5</text><text x="337" y="4018">0</text>
<text x="430" y="3953">1,200</text><text x="430" y="3970">1,000</text><text x="430" y="3986">800</text><text x="430" y="4002">600</text><text x="430" y="4018">400</text>
<text x="621" y="3953">10,000</text><text x="621" y="3970">7,500</text><text x="621" y="3986">5,000</text><text x="621" y="4002">2,500</text><text x="621" y="4018">0</text></g>
<g class="tm" font-size="5"><text x="175" y="4030">Time (min)</text><text x="366" y="4030">Time (min)</text></g>
<g stroke="#555" stroke-width="0.4">
<rect x="62" y="3985" width="11" height="31" fill="#d6d6d6"/><rect x="75" y="3985" width="11" height="31" fill="#9cb0c3"/><rect x="88" y="3994" width="11" height="22" fill="#7c9d97"/><rect x="101" y="3999" width="11" height="17" fill="#eab080"/>
<rect x="252" y="3978" width="11" height="38" fill="#d6d6d6"/><rect x="265" y="3983" width="11" height="33" fill="#9cb0c3"/><rect x="278" y="3994" width="11" height="22" fill="#7c9d97"/><rect x="291" y="3998" width="11" height="18" fill="#eab080"/>
<rect x="437" y="3961" width="11" height="55" fill="#d6d6d6"/><rect x="450" y="3965" width="11" height="51" fill="#9cb0c3"/><rect x="463" y="3968" width="11" height="48" fill="#7c9d97"/><rect x="476" y="3983" width="11" height="33" fill="#eab080"/>
<rect x="628" y="3998" width="11" height="18" fill="#d6d6d6"/><rect x="641" y="3983" width="11" height="33" fill="#9cb0c3"/><rect x="654" y="4006" width="11" height="10" fill="#7c9d97"/><rect x="667" y="4006" width="11" height="10" fill="#eab080"/>
</g>
<g stroke="#444" stroke-width="0.6"><path d="M76,3969 H101 M78,3975 H92 M267,3962 H292 M268,3968 H284 M453,3956 H478 M463,3962 H478 M643,3958 H668 M645,3965 H660"/></g>
<g fill="none" stroke="#777" stroke-width="0.6">
<polyline style="marker-start:url(#mo);marker-mid:url(#mo);marker-end:url(#mo)" points="152,3997 155,3986 160,3961 165,3962 178,3975 195,3988"/>
<polyline style="marker-start:url(#mo);marker-mid:url(#mo);marker-end:url(#mo)" points="152,3997 155,3988 160,3964 165,3963 178,3978 195,3991"/>
<polyline style="marker-start:url(#mo);marker-mid:url(#mo);marker-end:url(#mo)" points="152,3997 155,3990 160,3975 165,3980 178,3990 195,3999"/>
<polyline style="marker-start:url(#mo);marker-mid:url(#mo);marker-end:url(#mo)" points="152,3997 155,3992 160,3978 165,3984 178,3993 195,4001"/>
<polyline style="marker-start:url(#mo);marker-mid:url(#mo);marker-end:url(#mo)" points="343,3969 346,3976 352,3984 361,3987 373,3985 388,3980"/>
<polyline style="marker-start:url(#mo);marker-mid:url(#mo);marker-end:url(#mo)" points="343,3973 346,3980 352,3989 361,3993 373,3988 388,3982"/>
<polyline style="marker-start:url(#mo);marker-mid:url(#mo);marker-end:url(#mo)" points="343,3975 346,3986 352,3996 361,3999 373,3992 388,3984"/>
</g>
<g font-size="5" fill="#444"><text x="155" y="4011">Day 4</text><text x="344" y="4011">Day 8</text></g>
<!-- x images -->
<g font-size="5" fill="#444" text-anchor="middle"><text x="520" y="3948">Vehicle</text><text x="561" y="3948">GLP-1</text><text x="520" y="4021">MK-801</text><text x="561" y="4021">GLP-1-MK-801</text></g>
<rect x="504" y="3950" width="33" height="30" fill="#c9977d"/><rect x="545" y="3950" width="32" height="30" fill="#d9bba2"/>
<rect x="504" y="3983" width="33" height="30" fill="#c2583e"/><rect x="545" y="3983" width="32" height="30" fill="#d4a583"/>
<rect x="508" y="3954" width="25" height="22" fill="#dcb8a0" opacity="0.5"/><rect x="549" y="3954" width="24" height="22" fill="#e8d2c0" opacity="0.5"/>
<rect x="508" y="3987" width="25" height="22" fill="#d88a6a" opacity="0.5"/><rect x="549" y="3987" width="24" height="22" fill="#e3c1a3" opacity="0.5"/>

<!-- ================= SWATCH ROW 8 ================= -->
<g class="sw" transform="translate(0,4052)">
<rect x="18" y="0" width="149" height="149" rx="3" fill="#d6d6d6"/>
<rect x="194" y="0" width="149" height="149" rx="3" fill="#9fb1c4"/>
<rect x="369" y="0" width="149" height="149" rx="3" fill="#7d9c96"/>
<rect x="544" y="0" width="149" height="149" rx="3" fill="#e9ae7f"/>
<g class="d"><text x="92.5" y="40">#D6D6D6</text><text x="92.5" y="61">RGB 214, 214, 214</text><text x="92.5" y="82">HSB 0, 0, 84</text><text x="92.5" y="103">CMYK 0, 0, 0, 16</text><text x="92.5" y="124">LAB 86, 0, 0</text></g>
<g class="d"><text x="268.5" y="40">#9CB0C3</text><text x="268.5" y="61">RGB 156, 176, 195</text><text x="268.5" y="82">HSB 209, 20, 76</text><text x="268.5" y="103">CMYK 20, 10, 0, 24</text><text x="268.5" y="124">LAB 71, -3, -12</text></g>
<g class="d"><text x="443.5" y="40">#7C9D97</text><text x="443.5" y="61">RGB 124, 157, 151</text><text x="443.5" y="82">HSB 169, 21, 62</text><text x="443.5" y="103">CMYK 21, 0, 4, 38</text><text x="443.5" y="124">LAB 62, -13, -1</text></g>
<g class="d"><text x="618.5" y="40">#EAB080</text><text x="618.5" y="61">RGB 234, 176, 128</text><text x="618.5" y="82">HSB 27, 45, 92</text><text x="618.5" y="103">CMYK 0, 25, 45, 8</text><text x="618.5" y="124">LAB 76, 15, 33</text></g>
<circle cx="537" cy="119" r="6" fill="rgba(160,160,160,0.6)"/><circle cx="545" cy="123" r="5" fill="rgba(150,150,150,0.6)"/>
<text class="wm" x="556" y="127">公众号 · Paul</text>
</g>

<!-- ================= FIGURE 9 ================= -->
<text class="lb" x="45" y="4241" font-size="9">d</text>
<g class="tm" font-size="7.5"><text x="162" y="4243">Amplicon sequencing</text><text x="108" y="4256">Ctrl</text><text x="204" y="4256">TS</text></g>
<path class="ax" d="M72,4260 V4388 H140 M161,4260 V4388 H243"/>
<g class="tr" font-size="7"><text x="68" y="4263">0.6</text><text x="68" y="4306">0.4</text><text x="68" y="4348">0.2</text><text x="68" y="4391">0</text>
<text x="157" y="4264">0.5</text><text x="157" y="4289">0.4</text><text x="157" y="4314">0.3</text><text x="157" y="4340">0.2</text><text x="157" y="4365">0.1</text><text x="157" y="4391">0</text></g>
<text class="tm" font-size="7" transform="translate(55,4325) rotate(-90)">Proportion of total reads</text>
<rect x="86" y="4332" width="12" height="56" fill="#ade0b4"/><rect x="105" y="4318" width="11" height="70" fill="#5dbfe9"/><rect x="124" y="4303" width="11" height="85" fill="#e7e6d4"/>
<rect x="173" y="4287" width="12" height="101" fill="#4fbd81"/><rect x="192" y="4362" width="12" height="26" fill="#ade0b4"/><rect x="211" y="4327" width="12" height="61" fill="#5dbfe9"/><rect x="230" y="4320" width="11" height="68" fill="#e7e6d4"/>
<g stroke="#333" stroke-width="0.7"><path d="M92,4314 V4354 M89,4314 H95 M89,4354 H95 M110.5,4300 V4338 M107,4300 H114 M129.5,4280 V4330 M126,4280 H133 M198,4355 V4368 M195,4355 H201 M217,4321 V4333 M214,4321 H220 M235.5,4306 V4331 M232,4306 H239 M178,4276 H216 M178,4283 H198"/></g>
<g fill="#444"><circle cx="90" cy="4320" r="1"/><circle cx="94" cy="4345" r="1"/><circle cx="109" cy="4308" r="1"/><circle cx="112" cy="4330" r="1"/><circle cx="128" cy="4290" r="1"/><circle cx="132" cy="4294" r="1"/><circle cx="236" cy="4310" r="1"/></g>
<g font-size="7" fill="#333"><text x="196" y="4274">***</text><text x="181" y="4281">****</text></g>
<g font-size="7" fill="#444" font-style="italic" text-anchor="end">
<text transform="translate(94,4394) rotate(-55)">Exon 8A WT</text><text transform="translate(113,4394) rotate(-55)">Exon 8</text><text transform="translate(132,4394) rotate(-55)">Exon 7–8</text>
<text transform="translate(181,4394) rotate(-55)">Exon 8A TS</text><text transform="translate(200,4394) rotate(-55)">Exon 8A WT</text><text transform="translate(219,4394) rotate(-55)">Exon 8</text><text transform="translate(238,4394) rotate(-55)">Exon 7–8</text>
</g>
<!-- donuts -->
<path d="M293.6,4236.7 A28,28 0 0 1 309.4,4274.8 L297.6,4269.3 A15,15 0 0 0 289.1,4248.9 Z" fill="#ade0b4"/>
<path d="M309.4,4274.8 A28,28 0 0 1 261.3,4279.5 L271.9,4271.8 A15,15 0 0 0 297.6,4269.3 Z" fill="#5dbfe9"/>
<path d="M261.3,4279.5 A28,28 0 0 1 293.6,4236.7 L289.1,4248.9 A15,15 0 0 0 271.9,4271.8 Z" fill="#e7e6d4"/>
<path d="M284,4320 A28,28 0 0 1 302.7,4368.8 L294,4359.1 A15,15 0 0 0 284,4333 Z" fill="#4fbd81"/>
<path d="M302.7,4368.8 A28,28 0 0 1 285,4376 L284.5,4363 A15,15 0 0 0 294,4359.1 Z" fill="#ade0b4"/>
<path d="M285,4376 A28,28 0 0 1 256.4,4352.9 L269.2,4350.6 A15,15 0 0 0 284.5,4363 Z" fill="#5dbfe9"/>
<path d="M256.4,4352.9 A28,28 0 0 1 284,4320 L284,4333 A15,15 0 0 0 269.2,4350.6 Z" fill="#e7e6d4"/>
<path d="M292.5,4231.1 A33,33 0 0 1 311,4281.9 M281.1,4315.1 A33,33 0 1 1 285.2,4381" fill="none" stroke="#444" stroke-width="0.8"/>
<g font-size="6.5" fill="#444" text-anchor="middle">
<text x="284" y="4266">Ctrl</text><text x="284" y="4351">TS</text><text x="270" y="4249">7–8</text><text x="302" y="4258">8A</text><text x="283" y="4286">8</text>
<text x="270" y="4334">7–8</text><text x="300" y="4345">8A</text><text x="300" y="4353">TS</text><text x="294" y="4370">WT</text><text x="266" y="4362">8</text>
<text x="338" y="4267">26.4%</text><text x="338" y="4350">38.4%</text><text x="307" y="4387">11.0%</text>
</g>
<!-- e -->
<text class="lb" x="362" y="4241" font-size="9">e</text>
<g class="tm" font-size="7"><text x="390" y="4274">HEK293T</text><text x="390" y="4331">Transfection</text><text x="390" y="4368">RT–PCR</text><text x="390" y="4404">Amplicon</text><text x="390" y="4413">sequencing</text></g>
<text x="398" y="4348" font-size="7" fill="#444">3 days</text>
<ellipse cx="390" cy="4295" rx="28" ry="10" fill="#e6e6ee" stroke="#aaa" stroke-width="0.8"/>
<ellipse cx="390" cy="4293" rx="24" ry="7" fill="#d4c4d6"/>
<g fill="#b08ab0"><circle cx="380" cy="4292" r="1"/><circle cx="386" cy="4290" r="1"/><circle cx="394" cy="4294" r="1"/><circle cx="400" cy="4291" r="1"/><circle cx="375" cy="4295" r="1"/><circle cx="390" cy="4296" r="1"/></g>
<g stroke="#444" stroke-width="0.8"><path d="M390,4307 V4322 M390,4335 V4358 M390,4372 V4394"/></g>
<path d="M388,4320 L390,4324 L392,4320 Z M388,4356 L390,4360 L392,4356 Z M388,4392 L390,4396 L392,4392 Z" fill="#444"/>
<g font-size="6.5" fill="#444">
<text x="433" y="4256">pDup4-1</text><text x="430" y="4277">CACNA1C</text><text x="553" y="4232">ApaI</text><text x="578" y="4232">BglII</text>
</g>
<g stroke="#444" stroke-width="0.8" fill="#fff">
<path d="M467,4253 H660 M467,4273 H655"/>
<rect x="489" y="4248" width="25" height="11"/><rect x="514" y="4248" width="35" height="11"/><rect x="564" y="4248" width="9" height="11"/><rect x="602" y="4248" width="34" height="11"/>
<rect x="477" y="4268" width="14" height="10"/><rect x="523" y="4268" width="16" height="10"/><rect x="570" y="4268" width="14" height="10" fill="#3a9ee0"/><rect x="594" y="4268" width="15" height="10" fill="#bfe3c3"/><rect x="631" y="4268" width="16" height="10"/>
<path d="M559,4236 V4253 M584,4236 V4253" fill="none"/>
<path d="M559,4253 V4273 M584,4255 L630,4273" stroke-dasharray="2,1.5" fill="none"/>
<path d="M502,4276 L505,4270 M505,4276 L508,4270" fill="none"/>
<rect x="435" y="4297" width="106" height="23" rx="6" fill="none"/><rect x="565" y="4297" width="105" height="23" rx="6" fill="none"/>
<rect x="438" y="4288" width="20" height="10"/><rect x="458" y="4288" width="8" height="10"/><rect x="483" y="4288" width="13" height="10" fill="#3a9ee0"/><rect x="505" y="4288" width="15" height="10" fill="#bfe3c3"/><rect x="529" y="4288" width="8" height="10"/>
<rect x="568" y="4288" width="20" height="10"/><rect x="590" y="4288" width="8" height="10"/><rect x="610" y="4288" width="13" height="10" fill="#3a9ee0"/><rect x="632" y="4288" width="14" height="10" fill="#3cae6c"/><rect x="655" y="4288" width="8" height="10"/>
<path d="M466,4293 H483 M496,4293 H505 M520,4293 H529 M598,4293 H610 M623,4293 H632 M646,4293 H655" fill="none"/>
</g>
<g font-size="6" fill="#333" text-anchor="middle">
<text x="514" y="4272">1</text><text x="484" y="4276">1</text><text x="531" y="4276">7</text><text x="577" y="4276">8</text><text x="601.5" y="4276">8A</text><text x="639" y="4276">9</text>
<text x="501" y="4256">CMV</text><text x="531" y="4256">1</text><text x="568.5" y="4256">2</text><text x="619" y="4256">3</text>
<text x="448" y="4296">CMV</text><text x="462" y="4296">1</text><text x="489.5" y="4296">8</text><text x="512.5" y="4296">8A</text><text x="533" y="4296">3</text>
<text x="578" y="4296">CMV</text><text x="594" y="4296">1</text><text x="616.5" y="4296">8</text><text x="639" y="4296">8A</text><text x="659" y="4296">3</text>
<text x="487" y="4313">pDup.8-8A-WT</text><text x="553" y="4309">versus</text><text x="617" y="4313">pDup.8-8A-TS</text>
<text x="490" y="4339">pDup.8-8A-WT</text><text x="573" y="4339">pDup.8-8A-TS</text>
<text x="451" y="4350">L</text><text x="475" y="4350">WT10</text><text x="500" y="4350">WT9</text><text x="528" y="4350">Mut8</text><text x="554" y="4350">Mut15</text><text x="582" y="4350">Mut20</text><text x="607" y="4350">Mut30</text>
</g>
<path d="M465,4341 H515 M520,4341 H615" stroke="#444" stroke-width="0.6"/>
<rect x="440" y="4352" width="174" height="68" fill="url(#gel)"/>
<g>
<rect x="442" y="4354" width="17" height="2.5" fill="#777"/><rect x="442" y="4365" width="17" height="1.5" fill="#aaa"/>
<rect x="466" y="4377" width="18" height="3" fill="#aaa"/><rect x="491" y="4377" width="18" height="3" fill="#aaa"/>
<rect x="466" y="4392" width="18" height="2" fill="#bbb"/><rect x="491" y="4392" width="18" height="2" fill="#bbb"/>
<rect x="466" y="4408" width="18" height="3" fill="#c0c0c0"/><rect x="491" y="4408" width="18" height="3" fill="#c4c4c4"/>
<rect x="518" y="4376" width="20" height="4" fill="#4a4a4a"/><rect x="545" y="4376" width="20" height="4" fill="#555"/><rect x="572" y="4376" width="20" height="4" fill="#555"/><rect x="598" y="4376" width="16" height="4" fill="#555"/>
<rect x="518" y="4392" width="20" height="3" fill="#8a8a8a"/><rect x="545" y="4392" width="20" height="3" fill="#9a9a9a"/><rect x="572" y="4392" width="20" height="3" fill="#9a9a9a"/><rect x="598" y="4392" width="16" height="3" fill="#9a9a9a"/>
</g>
<g class="tr" font-size="6"><text x="438" y="4358">0.5–</text><text x="438" y="4369">0.4–</text><text x="438" y="4381">0.3–</text><text x="438" y="4396">0.2–</text><text x="438" y="4411">0.1–</text></g>
<text x="421" y="4351" font-size="6" fill="#444">kb</text>
<g stroke="#333" stroke-width="0.6">
<rect x="619" y="4360" width="6" height="8" fill="#fff"/><rect x="625" y="4360" width="15" height="8" fill="#3a9ee0"/><rect x="640" y="4360" width="30" height="8" fill="#3cae6c"/><rect x="670" y="4360" width="7" height="8" fill="#fff"/>
<rect x="619" y="4383" width="7" height="7" fill="#fff"/><rect x="626" y="4383" width="16" height="7" fill="#3a9ee0"/><rect x="642" y="4383" width="8" height="7" fill="#fff"/>
<rect x="619" y="4392" width="7" height="7" fill="#fff"/><rect x="626" y="4392" width="16" height="7" fill="#3cae6c"/><rect x="642" y="4392" width="8" height="7" fill="#fff"/>
<rect x="619" y="4406" width="7" height="7" fill="#fff"/><rect x="626" y="4406" width="7" height="7" fill="#fff"/>
</g>
<g font-size="6.5" fill="#444"><text x="628" y="4355">311 bp</text><text x="653" y="4395">207 bp</text><text x="636" y="4412">100 bp</text></g>

<!-- ================= SWATCH ROW 9 ================= -->
<g class="sw" transform="translate(0,4450)">
<rect x="18" y="0" width="149" height="149" rx="3" fill="#55b681"/>
<rect x="194" y="0" width="149" height="149" rx="3" fill="#aedcb4"/>
<rect x="369" y="0" width="149" height="149" rx="3" fill="#5fb9e6"/>
<rect x="544" y="0" width="149" height="149" rx="3" fill="#e5e3d3"/>
<g class="d"><text x="92.5" y="40">#4FBD81</text><text x="92.5" y="61">RGB 79, 189, 129</text><text x="92.5" y="82">HSB 147, 58, 74</text><text x="92.5" y="103">CMYK 58, 0, 32, 26</text><text x="92.5" y="124">LAB 69, -45, 21</text></g>
<g class="d"><text x="268.5" y="40">#ADE0B4</text><text x="268.5" y="61">RGB 173, 224, 180</text><text x="268.5" y="82">HSB 128, 23, 88</text><text x="268.5" y="103">CMYK 23, 0, 20, 12</text><text x="268.5" y="124">LAB 85, -25, 16</text></g>
<g class="d"><text x="443.5" y="40">#5DBFE9</text><text x="443.5" y="61">RGB 93, 191, 233</text><text x="443.5" y="82">HSB 198, 60, 91</text><text x="443.5" y="103">CMYK 60, 18, 0, 9</text><text x="443.5" y="124">LAB 73, -17, -30</text></g>
<g class="d"><text x="618.5" y="40">#E7E6D4</text><text x="618.5" y="61">RGB 231, 230, 212</text><text x="618.5" y="82">HSB 57, 8, 91</text><text x="618.5" y="103">CMYK 0, 0, 8, 9</text><text x="618.5" y="124">LAB 91, -3, 9</text></g>
<circle cx="537" cy="119" r="6" fill="rgba(160,160,160,0.6)"/><circle cx="545" cy="123" r="5" fill="rgba(150,150,150,0.6)"/>
<text class="wm" x="556" y="127">公众号 · Paul</text>
</g>
</svg>
</body></html>
